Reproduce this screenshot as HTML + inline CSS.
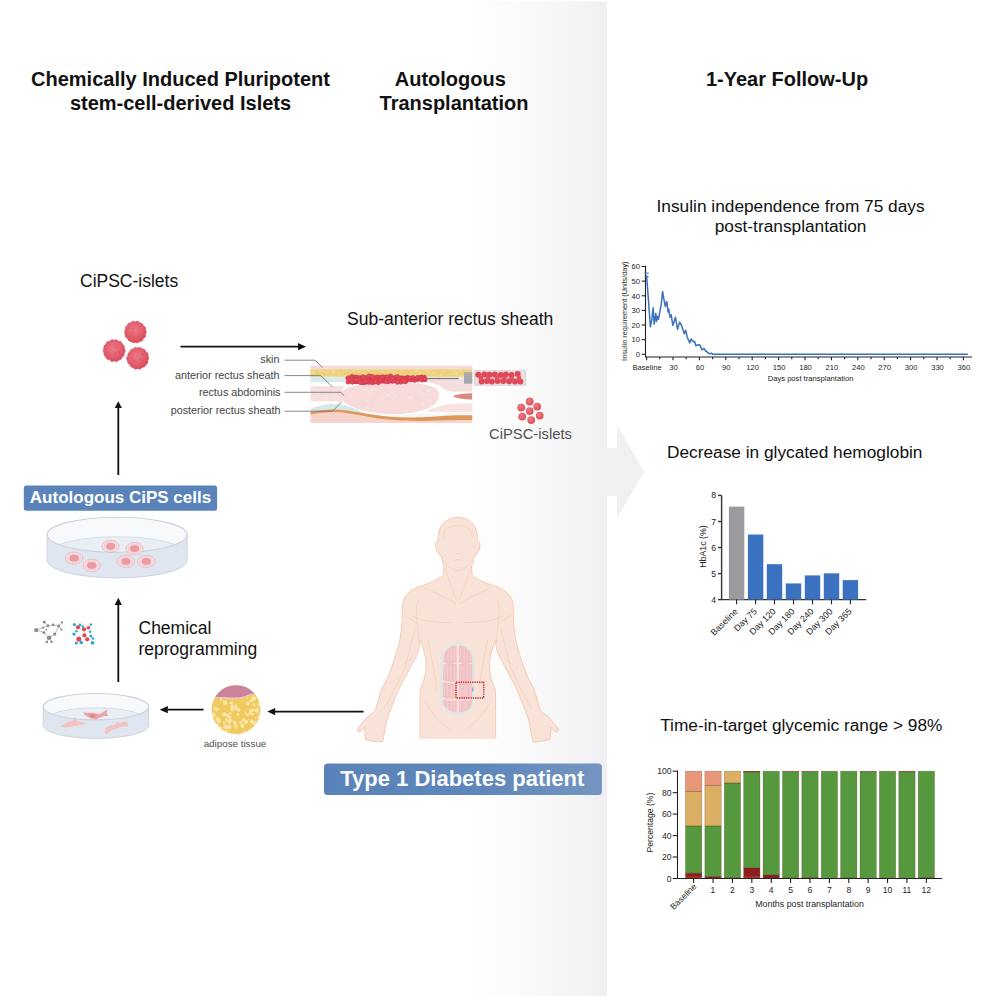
<!DOCTYPE html>
<html><head><meta charset="utf-8">
<style>
html,body{margin:0;padding:0;background:#fff;overflow:hidden;}
svg{display:block;font-family:"Liberation Sans", sans-serif;}
</style></head>
<body>
<svg width="996" height="996" viewBox="0 0 996 996">
<defs>
<linearGradient id="bg" x1="0" x2="1" y1="0" y2="0">
<stop offset="0" stop-color="#ffffff"/>
<stop offset="0.25" stop-color="#fcfcfc"/>
<stop offset="0.55" stop-color="#f8f8f9"/>
<stop offset="1" stop-color="#f0eff1"/>
</linearGradient>
<radialGradient id="islet" cx="0.45" cy="0.4" r="0.6">
<stop offset="0" stop-color="#ec7a86"/>
<stop offset="0.7" stop-color="#e05a6a"/>
<stop offset="1" stop-color="#d84a5c"/>
</radialGradient>
<radialGradient id="ball" cx="0.4" cy="0.35" r="0.65">
<stop offset="0" stop-color="#ee7b83"/>
<stop offset="1" stop-color="#dc5060"/>
</radialGradient>
</defs>
<rect x="0" y="0" width="996" height="996" fill="#fff"/>
<rect x="466" y="1.5" width="141" height="994.5" fill="url(#bg)"/>
<polygon points="607,448 617,448 617,425 644,472 617,518 617,496 607,496" fill="#f0f0f2"/>

<g font-weight="bold" font-size="20" fill="#111" text-anchor="middle">
<text x="180.5" y="86.3">Chemically Induced Pluripotent</text>
<text x="180.5" y="110">stem-cell-derived Islets</text>
<text x="450.3" y="86.4">Autologous</text>
<text x="454" y="110.3">Transplantation</text>
<text x="787" y="86.1">1-Year Follow-Up</text>
</g>
<g font-size="17.5" fill="#111">
<text x="80" y="286.5">CiPSC-islets</text>
<text x="347" y="325.3">Sub-anterior rectus sheath</text>
<text x="138.5" y="633.9">Chemical</text>
<text x="138.5" y="654.7">reprogramming</text>
</g>
<g font-size="17.3" fill="#111" text-anchor="middle">
<text x="790.6" y="211.6">Insulin independence from 75 days</text>
<text x="790.6" y="232">post-transplantation</text>
<text x="794.7" y="458.3">Decrease in glycated hemoglobin</text>
<text x="801.3" y="731.1">Time-in-target glycemic range &gt; 98%</text>
</g>

<rect x="23.8" y="485.6" width="193.3" height="25.2" rx="2.5" fill="#5a84b9"/>
<text x="120.5" y="503.3" font-size="17" font-weight="bold" fill="#fff" text-anchor="middle">Autologous CiPS cells</text>
<linearGradient id="boxg" x1="0" x2="1" y1="0" y2="0"><stop offset="0" stop-color="#5a84b9"/><stop offset="0.55" stop-color="#5d86ba"/><stop offset="1" stop-color="#7595c1"/></linearGradient>
<rect x="324" y="763.4" width="277.9" height="31.6" rx="3.5" fill="url(#boxg)"/>
<text x="462.3" y="786" font-size="22" font-weight="bold" fill="#fbfbfb" text-anchor="middle">Type 1 Diabetes patient</text>

<line x1="118.3" y1="475" x2="118.3" y2="407.6" stroke="#111" stroke-width="1.8"/><polygon points="114.7,408.1 121.89999999999999,408.1 118.3,401.3" fill="#111"/>
<line x1="118.3" y1="682" x2="118.3" y2="604.6" stroke="#111" stroke-width="1.8"/><polygon points="114.7,605.1 121.89999999999999,605.1 118.3,597.8" fill="#111"/>
<line x1="203.6" y1="709.7" x2="167.3" y2="709.7" stroke="#111" stroke-width="1.8"/><polygon points="167.8,706.1 167.8,713.3000000000001 159.7,709.7" fill="#111"/>
<line x1="363.6" y1="711.6" x2="274.7" y2="711.6" stroke="#111" stroke-width="1.8"/><polygon points="275.2,708.0 275.2,715.2 267.3,711.6" fill="#111"/>
<line x1="180.5" y1="346.7" x2="298.5" y2="346.7" stroke="#111" stroke-width="1.8"/><polygon points="298.0,343.09999999999997 298.0,350.3 306,346.7" fill="#111"/>
<polygon points="146.46,332.10 145.40,334.38 145.51,336.97 143.39,338.47 142.36,340.83 139.90,341.44 137.83,342.75 135.40,342.54 132.97,342.74 130.89,341.47 128.58,340.65 127.40,338.48 125.39,336.92 125.07,334.46 124.44,332.10 125.36,329.81 125.30,327.23 127.07,325.45 128.42,323.35 130.89,322.74 132.87,321.00 135.40,321.89 137.92,321.05 139.88,322.79 142.24,323.52 143.41,325.71 145.36,327.30 145.73,329.74" fill="url(#islet)" stroke="#dc5064" stroke-width="0.6" stroke-linejoin="round"/>
<circle cx="137.6" cy="336.8" r="0.6" fill="#c83a4c" opacity="0.5"/>
<circle cx="132.8" cy="329.0" r="0.6" fill="#c83a4c" opacity="0.5"/>
<circle cx="133.2" cy="331.4" r="0.6" fill="#c83a4c" opacity="0.5"/>
<circle cx="138.3" cy="333.2" r="0.6" fill="#c83a4c" opacity="0.5"/>
<circle cx="133.6" cy="328.2" r="0.6" fill="#c83a4c" opacity="0.5"/>
<circle cx="133.4" cy="336.9" r="0.6" fill="#c83a4c" opacity="0.5"/>
<circle cx="131.9" cy="333.2" r="0.6" fill="#c83a4c" opacity="0.5"/>
<polygon points="125.40,350.60 124.37,352.94 124.03,355.38 122.29,357.13 121.06,359.33 118.71,360.17 116.61,361.58 114.10,360.93 111.57,361.70 109.66,359.83 107.17,359.29 105.84,357.19 104.21,355.36 103.93,352.92 103.18,350.60 103.84,348.26 103.94,345.70 105.91,344.07 107.03,341.74 109.61,341.28 111.60,339.63 114.10,340.12 116.59,339.69 118.62,341.22 121.16,341.75 122.43,343.96 124.13,345.77 124.35,348.26" fill="url(#islet)" stroke="#dc5064" stroke-width="0.6" stroke-linejoin="round"/>
<circle cx="119.5" cy="352.8" r="0.6" fill="#c83a4c" opacity="0.5"/>
<circle cx="109.6" cy="344.6" r="0.6" fill="#c83a4c" opacity="0.5"/>
<circle cx="115.7" cy="347.4" r="0.6" fill="#c83a4c" opacity="0.5"/>
<circle cx="109.8" cy="354.3" r="0.6" fill="#c83a4c" opacity="0.5"/>
<circle cx="118.6" cy="351.2" r="0.6" fill="#c83a4c" opacity="0.5"/>
<circle cx="115.4" cy="352.9" r="0.6" fill="#c83a4c" opacity="0.5"/>
<circle cx="119.9" cy="352.9" r="0.6" fill="#c83a4c" opacity="0.5"/>
<polygon points="148.76,358.20 147.85,360.49 147.80,363.01 146.10,364.82 144.62,366.75 142.32,367.58 140.29,369.09 137.80,368.83 135.28,369.23 133.19,367.77 130.92,366.83 129.67,364.68 127.82,363.01 127.44,360.56 126.42,358.20 127.80,355.92 127.90,353.43 129.75,351.78 130.93,349.59 133.28,348.81 135.31,347.29 137.80,347.88 140.23,347.57 142.31,348.83 144.71,349.53 145.98,351.67 148.05,353.26 148.07,355.86" fill="url(#islet)" stroke="#dc5064" stroke-width="0.6" stroke-linejoin="round"/>
<circle cx="132.4" cy="357.7" r="0.6" fill="#c83a4c" opacity="0.5"/>
<circle cx="136.8" cy="356.1" r="0.6" fill="#c83a4c" opacity="0.5"/>
<circle cx="142.9" cy="354.5" r="0.6" fill="#c83a4c" opacity="0.5"/>
<circle cx="142.3" cy="353.7" r="0.6" fill="#c83a4c" opacity="0.5"/>
<circle cx="134.5" cy="360.8" r="0.6" fill="#c83a4c" opacity="0.5"/>
<circle cx="142.2" cy="361.5" r="0.6" fill="#c83a4c" opacity="0.5"/>
<circle cx="140.0" cy="359.1" r="0.6" fill="#c83a4c" opacity="0.5"/>
<g font-size="10.8" fill="#444" text-anchor="end">
<text x="279.5" y="363.4">skin</text>
<text x="279.5" y="378.6">anterior rectus sheath</text>
<text x="280.5" y="395.9">rectus abdominis</text>
<text x="280.5" y="413.8">posterior rectus sheath</text>
</g>

<g id="tissue">
<clipPath id="tclip"><rect x="310.5" y="365.3" width="161.8" height="57.7"/></clipPath>
<g clip-path="url(#tclip)">
<rect x="310" y="365" width="163" height="59" fill="#ffffff"/>
<path d="M310,413 C318,411 326,410 334,410.2 C346,410.5 358,413 372,416 C392,420 418,420.5 445,418.5 C458,417.8 466,418 473,418 L473,424 L310,424 Z" fill="#f6d4cb"/>
<path d="M310,409.5 C318,405 328,403.5 338,404 C348,405 356,409 364,413 C352,411 340,410 330,410.3 C322,410.8 316,411.5 310,412 Z" fill="#d5e9e8"/>
<path d="M364,413.5 C392,418.5 418,419 445,416.8 C458,416 466,416 473,416 L473,412.6 C455,413 435,413.5 410,413.8 C395,414 380,414 364,413.5 Z" fill="#f3f9f9"/>
<path d="M310,412 C318,410.5 326,409.3 334,409.4 C346,409.6 358,412 372,414.5 C392,418 418,418.2 445,415.8 C458,415 466,415.2 473,415.2 L473,420 C466,420 458,420 445,420.3 C418,421.5 392,421 372,417.5 C358,414.8 346,412.3 334,412 C326,412 318,413.2 310,414.5 Z" fill="#e0975a"/>
<path d="M310,386.3 L344,386.3 C341.5,391 340.5,396 342.5,401.2 L310,401.2 Z" fill="#f7dddc"/>
<ellipse cx="317.4" cy="389.8" rx="2.7" ry="0.8" fill="#fae8e8" opacity="0.7"/>
<ellipse cx="312.0" cy="389.7" rx="2.2" ry="1.0" fill="#fae8e8" opacity="0.7"/>
<ellipse cx="312.7" cy="397.6" rx="3.2" ry="0.9" fill="#fae8e8" opacity="0.7"/>
<ellipse cx="318.6" cy="391.8" rx="2.7" ry="0.9" fill="#fae8e8" opacity="0.7"/>
<ellipse cx="334.1" cy="398.9" rx="2.9" ry="1.1" fill="#fae8e8" opacity="0.7"/>
<ellipse cx="314.2" cy="389.1" rx="2.7" ry="1.0" fill="#fae8e8" opacity="0.7"/>
<ellipse cx="333.6" cy="389.8" rx="2.0" ry="1.4" fill="#fae8e8" opacity="0.7"/>
<ellipse cx="325.7" cy="389.6" rx="3.1" ry="0.8" fill="#fae8e8" opacity="0.7"/>
<ellipse cx="325.7" cy="398.8" rx="3.7" ry="1.2" fill="#fae8e8" opacity="0.7"/>
<ellipse cx="318.8" cy="392.0" rx="2.3" ry="1.3" fill="#fae8e8" opacity="0.7"/>
<rect x="310" y="365.5" width="163" height="4" fill="#f4dbda"/>
<rect x="310" y="369.3" width="163" height="7.5" fill="#eed079"/>
<ellipse cx="396.2" cy="374.7" rx="1.6" ry="0.7" fill="#f4dc98" opacity="0.7"/>
<ellipse cx="440.8" cy="375.9" rx="2.2" ry="1.0" fill="#f4dc98" opacity="0.7"/>
<ellipse cx="441.9" cy="374.4" rx="1.5" ry="0.9" fill="#f4dc98" opacity="0.7"/>
<ellipse cx="367.9" cy="370.2" rx="1.2" ry="0.7" fill="#f4dc98" opacity="0.7"/>
<ellipse cx="352.5" cy="374.2" rx="2.3" ry="0.8" fill="#f4dc98" opacity="0.7"/>
<ellipse cx="460.9" cy="375.9" rx="2.3" ry="0.8" fill="#f4dc98" opacity="0.7"/>
<ellipse cx="346.3" cy="371.4" rx="1.4" ry="0.7" fill="#f4dc98" opacity="0.7"/>
<ellipse cx="410.9" cy="375.4" rx="2.2" ry="0.8" fill="#f4dc98" opacity="0.7"/>
<ellipse cx="415.5" cy="374.8" rx="1.3" ry="0.9" fill="#f4dc98" opacity="0.7"/>
<ellipse cx="456.6" cy="374.7" rx="2.1" ry="0.8" fill="#f4dc98" opacity="0.7"/>
<ellipse cx="339.6" cy="374.7" rx="1.6" ry="1.0" fill="#f4dc98" opacity="0.7"/>
<ellipse cx="466.5" cy="372.4" rx="1.7" ry="1.1" fill="#f4dc98" opacity="0.7"/>
<ellipse cx="427.0" cy="371.0" rx="1.4" ry="0.7" fill="#f4dc98" opacity="0.7"/>
<ellipse cx="455.8" cy="374.8" rx="1.4" ry="1.0" fill="#f4dc98" opacity="0.7"/>
<ellipse cx="467.8" cy="373.9" rx="1.6" ry="0.9" fill="#f4dc98" opacity="0.7"/>
<ellipse cx="332.0" cy="370.1" rx="2.4" ry="0.9" fill="#f4dc98" opacity="0.7"/>
<ellipse cx="395.3" cy="375.6" rx="1.7" ry="1.0" fill="#f4dc98" opacity="0.7"/>
<ellipse cx="443.2" cy="371.3" rx="1.5" ry="0.7" fill="#f4dc98" opacity="0.7"/>
<ellipse cx="349.5" cy="373.5" rx="1.5" ry="0.8" fill="#f4dc98" opacity="0.7"/>
<ellipse cx="332.0" cy="375.5" rx="1.6" ry="0.8" fill="#f4dc98" opacity="0.7"/>
<ellipse cx="404.3" cy="375.4" rx="1.7" ry="1.1" fill="#f4dc98" opacity="0.7"/>
<ellipse cx="391.3" cy="373.2" rx="1.8" ry="0.6" fill="#f4dc98" opacity="0.7"/>
<ellipse cx="381.4" cy="371.1" rx="1.2" ry="1.0" fill="#f4dc98" opacity="0.7"/>
<ellipse cx="338.6" cy="372.8" rx="2.1" ry="0.9" fill="#f4dc98" opacity="0.7"/>
<ellipse cx="363.2" cy="373.1" rx="1.9" ry="1.0" fill="#f4dc98" opacity="0.7"/>
<ellipse cx="328.0" cy="373.4" rx="1.5" ry="0.7" fill="#f4dc98" opacity="0.7"/>
<ellipse cx="434.6" cy="373.0" rx="1.9" ry="1.0" fill="#f4dc98" opacity="0.7"/>
<ellipse cx="457.0" cy="372.7" rx="1.9" ry="0.9" fill="#f4dc98" opacity="0.7"/>
<ellipse cx="392.9" cy="374.2" rx="1.7" ry="0.9" fill="#f4dc98" opacity="0.7"/>
<ellipse cx="387.5" cy="375.6" rx="2.0" ry="1.0" fill="#f4dc98" opacity="0.7"/>
<ellipse cx="461.7" cy="371.6" rx="1.9" ry="1.1" fill="#f4dc98" opacity="0.7"/>
<ellipse cx="445.4" cy="370.8" rx="1.3" ry="0.8" fill="#f4dc98" opacity="0.7"/>
<ellipse cx="322.6" cy="371.4" rx="1.3" ry="0.9" fill="#f4dc98" opacity="0.7"/>
<ellipse cx="436.4" cy="375.4" rx="1.4" ry="1.0" fill="#f4dc98" opacity="0.7"/>
<ellipse cx="416.6" cy="370.9" rx="2.3" ry="1.1" fill="#f4dc98" opacity="0.7"/>
<ellipse cx="346.1" cy="375.7" rx="1.7" ry="0.8" fill="#f4dc98" opacity="0.7"/>
<ellipse cx="469.4" cy="375.0" rx="1.4" ry="0.8" fill="#f4dc98" opacity="0.7"/>
<ellipse cx="393.5" cy="372.0" rx="1.4" ry="0.8" fill="#f4dc98" opacity="0.7"/>
<ellipse cx="426.5" cy="370.1" rx="1.9" ry="0.8" fill="#f4dc98" opacity="0.7"/>
<ellipse cx="313.9" cy="372.0" rx="1.9" ry="0.9" fill="#f4dc98" opacity="0.7"/>
<ellipse cx="321.3" cy="375.9" rx="2.1" ry="1.1" fill="#f4dc98" opacity="0.7"/>
<ellipse cx="327.8" cy="371.6" rx="1.2" ry="1.0" fill="#f4dc98" opacity="0.7"/>
<ellipse cx="354.3" cy="370.8" rx="1.7" ry="1.1" fill="#f4dc98" opacity="0.7"/>
<ellipse cx="442.0" cy="371.6" rx="1.4" ry="1.1" fill="#f4dc98" opacity="0.7"/>
<ellipse cx="402.3" cy="374.2" rx="1.3" ry="0.6" fill="#f4dc98" opacity="0.7"/>
<ellipse cx="421.1" cy="372.6" rx="1.3" ry="1.1" fill="#f4dc98" opacity="0.7"/>
<ellipse cx="412.5" cy="374.8" rx="1.3" ry="1.0" fill="#f4dc98" opacity="0.7"/>
<ellipse cx="321.7" cy="375.2" rx="1.7" ry="0.8" fill="#f4dc98" opacity="0.7"/>
<ellipse cx="399.5" cy="375.6" rx="1.5" ry="0.7" fill="#f4dc98" opacity="0.7"/>
<ellipse cx="395.3" cy="371.4" rx="1.3" ry="0.7" fill="#f4dc98" opacity="0.7"/>
<ellipse cx="319.1" cy="371.2" rx="1.6" ry="0.8" fill="#f4dc98" opacity="0.7"/>
<ellipse cx="432.5" cy="371.7" rx="1.8" ry="0.7" fill="#f4dc98" opacity="0.7"/>
<ellipse cx="366.5" cy="370.1" rx="1.5" ry="0.6" fill="#f4dc98" opacity="0.7"/>
<ellipse cx="428.3" cy="373.3" rx="1.4" ry="0.8" fill="#f4dc98" opacity="0.7"/>
<ellipse cx="460.5" cy="370.6" rx="2.2" ry="0.8" fill="#f4dc98" opacity="0.7"/>
<ellipse cx="390.2" cy="375.0" rx="1.7" ry="0.9" fill="#f4dc98" opacity="0.7"/>
<ellipse cx="421.0" cy="375.9" rx="1.6" ry="1.0" fill="#f4dc98" opacity="0.7"/>
<ellipse cx="424.1" cy="373.8" rx="1.7" ry="0.8" fill="#f4dc98" opacity="0.7"/>
<ellipse cx="319.7" cy="370.8" rx="1.3" ry="1.0" fill="#f4dc98" opacity="0.7"/>
<ellipse cx="351.9" cy="371.0" rx="1.3" ry="1.0" fill="#f4dc98" opacity="0.7"/>
<ellipse cx="450.3" cy="374.0" rx="1.5" ry="0.7" fill="#f4dc98" opacity="0.7"/>
<ellipse cx="357.9" cy="372.8" rx="1.4" ry="0.8" fill="#f4dc98" opacity="0.7"/>
<ellipse cx="353.1" cy="375.8" rx="2.4" ry="0.9" fill="#f4dc98" opacity="0.7"/>
<ellipse cx="350.1" cy="375.8" rx="1.6" ry="0.8" fill="#f4dc98" opacity="0.7"/>
<ellipse cx="311.2" cy="372.3" rx="1.8" ry="0.9" fill="#f4dc98" opacity="0.7"/>
<ellipse cx="343.2" cy="373.0" rx="1.2" ry="0.7" fill="#f4dc98" opacity="0.7"/>
<ellipse cx="325.4" cy="372.4" rx="1.3" ry="0.6" fill="#f4dc98" opacity="0.7"/>
<ellipse cx="359.7" cy="371.4" rx="1.9" ry="0.9" fill="#f4dc98" opacity="0.7"/>
<ellipse cx="431.1" cy="373.9" rx="2.1" ry="1.0" fill="#f4dc98" opacity="0.7"/>
<ellipse cx="373.3" cy="372.0" rx="2.4" ry="0.7" fill="#f4dc98" opacity="0.7"/>
<ellipse cx="426.9" cy="373.9" rx="1.3" ry="1.0" fill="#f4dc98" opacity="0.7"/>
<ellipse cx="453.7" cy="373.8" rx="2.1" ry="1.0" fill="#f4dc98" opacity="0.7"/>
<ellipse cx="333.3" cy="373.1" rx="1.8" ry="1.0" fill="#f4dc98" opacity="0.7"/>
<ellipse cx="439.7" cy="375.0" rx="1.9" ry="1.0" fill="#f4dc98" opacity="0.7"/>
<ellipse cx="420.3" cy="374.2" rx="1.5" ry="0.6" fill="#f4dc98" opacity="0.7"/>
<ellipse cx="332.3" cy="372.2" rx="1.3" ry="1.0" fill="#f4dc98" opacity="0.7"/>
<ellipse cx="400.4" cy="373.8" rx="2.0" ry="0.9" fill="#f4dc98" opacity="0.7"/>
<ellipse cx="389.3" cy="370.0" rx="2.2" ry="1.0" fill="#f4dc98" opacity="0.7"/>
<ellipse cx="391.5" cy="373.2" rx="2.0" ry="0.6" fill="#f4dc98" opacity="0.7"/>
<ellipse cx="428.9" cy="371.5" rx="1.3" ry="0.7" fill="#f4dc98" opacity="0.7"/>
<ellipse cx="427.7" cy="371.2" rx="2.1" ry="1.1" fill="#f4dc98" opacity="0.7"/>
<ellipse cx="390.0" cy="372.3" rx="1.8" ry="0.9" fill="#f4dc98" opacity="0.7"/>
<ellipse cx="433.7" cy="373.7" rx="2.0" ry="0.6" fill="#f4dc98" opacity="0.7"/>
<ellipse cx="334.6" cy="371.5" rx="2.1" ry="0.8" fill="#f4dc98" opacity="0.7"/>
<ellipse cx="401.8" cy="370.1" rx="1.3" ry="0.7" fill="#f4dc98" opacity="0.7"/>
<ellipse cx="418.5" cy="374.2" rx="2.0" ry="0.7" fill="#f4dc98" opacity="0.7"/>
<ellipse cx="393.6" cy="372.8" rx="1.8" ry="0.7" fill="#f4dc98" opacity="0.7"/>
<ellipse cx="454.0" cy="371.2" rx="2.4" ry="1.1" fill="#f4dc98" opacity="0.7"/>
<ellipse cx="313.8" cy="372.8" rx="2.2" ry="1.1" fill="#f4dc98" opacity="0.7"/>
<ellipse cx="382.9" cy="371.6" rx="1.5" ry="1.1" fill="#f4dc98" opacity="0.7"/>
<path d="M310,376.8 L360,376.8 L360,382.2 L310,382.2 Z" fill="#d9ebea"/>
<path d="M473,379.5 L420,379.5 C428,381 434,383.5 440,386 C444,389 448,391.5 453,391.8 L473,391.8 Z" fill="#f7dede"/>
<path d="M473,403.5 L455,403.5 C445,404 435,407 425,411.8 C440,412.5 460,412.5 473,412.3 Z" fill="#f8e3e3"/>
<path d="M472.5,393.3 C465,393.3 456,394.3 453,396.3 C456,398.5 465,399.5 472.5,399.5 Z" fill="#da8a80"/>
<path d="M340.7,395 C341,386 365,382.5 398,382.5 C424,382.5 439.3,386 439.3,394.5 C439.3,405 424,414 395,414 C365,414 340.5,406 340.7,395 Z" fill="#f7dada"/>
<ellipse cx="367.3" cy="400.8" rx="1.7" ry="1.2" fill="#fae6e6" opacity="0.6"/>
<ellipse cx="428.1" cy="390.9" rx="2.7" ry="1.2" fill="#fae6e6" opacity="0.6"/>
<ellipse cx="422.7" cy="403.5" rx="1.8" ry="1.4" fill="#fae6e6" opacity="0.6"/>
<ellipse cx="389.9" cy="388.5" rx="1.5" ry="1.1" fill="#fae6e6" opacity="0.6"/>
<ellipse cx="387.0" cy="394.6" rx="1.7" ry="1.0" fill="#fae6e6" opacity="0.6"/>
<ellipse cx="375.9" cy="406.5" rx="1.5" ry="1.3" fill="#fae6e6" opacity="0.6"/>
<ellipse cx="418.8" cy="390.6" rx="2.9" ry="1.3" fill="#fae6e6" opacity="0.6"/>
<ellipse cx="423.9" cy="394.4" rx="2.1" ry="1.1" fill="#fae6e6" opacity="0.6"/>
<ellipse cx="431.9" cy="401.0" rx="2.0" ry="1.1" fill="#fae6e6" opacity="0.6"/>
<ellipse cx="372.6" cy="389.1" rx="1.7" ry="1.4" fill="#fae6e6" opacity="0.6"/>
<ellipse cx="373.4" cy="408.6" rx="1.9" ry="1.0" fill="#fae6e6" opacity="0.6"/>
<ellipse cx="391.9" cy="392.2" rx="2.1" ry="1.5" fill="#fae6e6" opacity="0.6"/>
<ellipse cx="422.5" cy="405.9" rx="2.4" ry="1.4" fill="#fae6e6" opacity="0.6"/>
<ellipse cx="427.1" cy="400.1" rx="2.6" ry="0.8" fill="#fae6e6" opacity="0.6"/>
<ellipse cx="410.1" cy="397.9" rx="2.6" ry="1.3" fill="#fae6e6" opacity="0.6"/>
<ellipse cx="373.5" cy="389.1" rx="2.9" ry="0.9" fill="#fae6e6" opacity="0.6"/>
<ellipse cx="388.7" cy="395.6" rx="1.9" ry="1.3" fill="#fae6e6" opacity="0.6"/>
<ellipse cx="430.1" cy="393.7" rx="2.5" ry="1.0" fill="#fae6e6" opacity="0.6"/>
<ellipse cx="395.7" cy="396.7" rx="1.8" ry="0.9" fill="#fae6e6" opacity="0.6"/>
<ellipse cx="367.0" cy="407.9" rx="2.2" ry="1.0" fill="#fae6e6" opacity="0.6"/>
<ellipse cx="424.3" cy="409.9" rx="2.2" ry="0.9" fill="#fae6e6" opacity="0.6"/>
<ellipse cx="365.8" cy="390.0" rx="2.0" ry="0.9" fill="#fae6e6" opacity="0.6"/>
<ellipse cx="369.6" cy="393.7" rx="2.4" ry="1.4" fill="#fae6e6" opacity="0.6"/>
<ellipse cx="411.5" cy="397.1" rx="2.1" ry="1.2" fill="#fae6e6" opacity="0.6"/>
<ellipse cx="380.9" cy="395.4" rx="1.6" ry="1.0" fill="#fae6e6" opacity="0.6"/>
<ellipse cx="429.4" cy="390.8" rx="2.3" ry="1.2" fill="#fae6e6" opacity="0.6"/>
<ellipse cx="420.8" cy="392.8" rx="1.9" ry="1.0" fill="#fae6e6" opacity="0.6"/>
<ellipse cx="382.8" cy="397.8" rx="2.9" ry="1.4" fill="#fae6e6" opacity="0.6"/>
<ellipse cx="421.6" cy="388.5" rx="1.5" ry="1.3" fill="#fae6e6" opacity="0.6"/>
<ellipse cx="423.4" cy="398.4" rx="2.4" ry="0.8" fill="#fae6e6" opacity="0.6"/>
<line x1="420" y1="378.5" x2="459" y2="378.5" stroke="#7c7c80" stroke-width="1.3"/>
<rect x="458.6" y="376.7" width="5.6" height="3.2" fill="#e8e8ec"/>
<rect x="464" y="372.2" width="10.8" height="11.5" fill="#a9a9ad"/>
<path d="M348,379.8 C348,376.5 352,375.5 358,375.5 C370,375 390,375 405,375.8 C415,376.5 422,377 426,378.2 C422,380.5 412,382 400,382.8 C385,383.8 365,384 355,384 C350,383.5 348,382.5 348,379.8 Z" fill="#d8404f"/>
<circle cx="378.0" cy="382.2" r="2.26" fill="#e04a5b" stroke="#cc3448" stroke-width="0.4"/>
<circle cx="414.2" cy="380.7" r="1.57" fill="#e04a5b" stroke="#cc3448" stroke-width="0.4"/>
<circle cx="356.0" cy="377.2" r="2.11" fill="#e04a5b" stroke="#cc3448" stroke-width="0.4"/>
<circle cx="400.7" cy="382.1" r="2.21" fill="#e04a5b" stroke="#cc3448" stroke-width="0.4"/>
<circle cx="398.0" cy="380.9" r="2.08" fill="#e04a5b" stroke="#cc3448" stroke-width="0.4"/>
<circle cx="390.5" cy="376.0" r="2.24" fill="#e04a5b" stroke="#cc3448" stroke-width="0.4"/>
<circle cx="365.6" cy="382.3" r="2.17" fill="#e04a5b" stroke="#cc3448" stroke-width="0.4"/>
<circle cx="371.2" cy="376.8" r="1.98" fill="#e04a5b" stroke="#cc3448" stroke-width="0.4"/>
<circle cx="397.1" cy="380.4" r="1.91" fill="#e04a5b" stroke="#cc3448" stroke-width="0.4"/>
<circle cx="353.0" cy="379.7" r="2.14" fill="#e04a5b" stroke="#cc3448" stroke-width="0.4"/>
<circle cx="377.8" cy="377.4" r="2.15" fill="#e04a5b" stroke="#cc3448" stroke-width="0.4"/>
<circle cx="348.3" cy="378.2" r="2.08" fill="#e04a5b" stroke="#cc3448" stroke-width="0.4"/>
<circle cx="422.3" cy="379.2" r="1.89" fill="#e04a5b" stroke="#cc3448" stroke-width="0.4"/>
<circle cx="384.6" cy="377.4" r="1.97" fill="#e04a5b" stroke="#cc3448" stroke-width="0.4"/>
<circle cx="422.4" cy="379.5" r="1.60" fill="#e04a5b" stroke="#cc3448" stroke-width="0.4"/>
<circle cx="349.2" cy="379.6" r="2.19" fill="#e04a5b" stroke="#cc3448" stroke-width="0.4"/>
<circle cx="380.3" cy="377.6" r="2.18" fill="#e04a5b" stroke="#cc3448" stroke-width="0.4"/>
<circle cx="419.7" cy="377.4" r="1.47" fill="#e04a5b" stroke="#cc3448" stroke-width="0.4"/>
<circle cx="373.9" cy="378.8" r="2.19" fill="#e04a5b" stroke="#cc3448" stroke-width="0.4"/>
<circle cx="363.0" cy="381.5" r="2.22" fill="#e04a5b" stroke="#cc3448" stroke-width="0.4"/>
<circle cx="386.9" cy="377.2" r="2.33" fill="#e04a5b" stroke="#cc3448" stroke-width="0.4"/>
<circle cx="371.8" cy="381.5" r="1.97" fill="#e04a5b" stroke="#cc3448" stroke-width="0.4"/>
<circle cx="364.8" cy="381.2" r="2.00" fill="#e04a5b" stroke="#cc3448" stroke-width="0.4"/>
<circle cx="421.8" cy="378.6" r="1.54" fill="#e04a5b" stroke="#cc3448" stroke-width="0.4"/>
<circle cx="364.9" cy="378.9" r="2.18" fill="#e04a5b" stroke="#cc3448" stroke-width="0.4"/>
<circle cx="421.5" cy="377.0" r="1.65" fill="#e04a5b" stroke="#cc3448" stroke-width="0.4"/>
<circle cx="364.1" cy="382.7" r="1.92" fill="#e04a5b" stroke="#cc3448" stroke-width="0.4"/>
<circle cx="351.5" cy="376.6" r="2.05" fill="#e04a5b" stroke="#cc3448" stroke-width="0.4"/>
<circle cx="417.6" cy="380.3" r="1.82" fill="#e04a5b" stroke="#cc3448" stroke-width="0.4"/>
<circle cx="425.3" cy="380.5" r="1.61" fill="#e04a5b" stroke="#cc3448" stroke-width="0.4"/>
<circle cx="362.0" cy="382.4" r="2.22" fill="#e04a5b" stroke="#cc3448" stroke-width="0.4"/>
<circle cx="350.0" cy="380.7" r="2.04" fill="#e04a5b" stroke="#cc3448" stroke-width="0.4"/>
<circle cx="376.7" cy="378.2" r="1.93" fill="#e04a5b" stroke="#cc3448" stroke-width="0.4"/>
<circle cx="347.7" cy="378.1" r="2.03" fill="#e04a5b" stroke="#cc3448" stroke-width="0.4"/>
<circle cx="422.0" cy="376.9" r="1.93" fill="#e04a5b" stroke="#cc3448" stroke-width="0.4"/>
<circle cx="363.7" cy="378.5" r="2.26" fill="#e04a5b" stroke="#cc3448" stroke-width="0.4"/>
<circle cx="411.6" cy="378.3" r="1.47" fill="#e04a5b" stroke="#cc3448" stroke-width="0.4"/>
<circle cx="384.4" cy="378.4" r="2.31" fill="#e04a5b" stroke="#cc3448" stroke-width="0.4"/>
<circle cx="362.6" cy="378.5" r="2.30" fill="#e04a5b" stroke="#cc3448" stroke-width="0.4"/>
<circle cx="349.9" cy="379.0" r="2.26" fill="#e04a5b" stroke="#cc3448" stroke-width="0.4"/>
<circle cx="407.3" cy="376.6" r="1.47" fill="#e04a5b" stroke="#cc3448" stroke-width="0.4"/>
<circle cx="352.4" cy="382.4" r="1.98" fill="#e04a5b" stroke="#cc3448" stroke-width="0.4"/>
<circle cx="405.8" cy="381.7" r="2.02" fill="#e04a5b" stroke="#cc3448" stroke-width="0.4"/>
<circle cx="368.7" cy="382.5" r="2.16" fill="#e04a5b" stroke="#cc3448" stroke-width="0.4"/>
<circle cx="367.9" cy="380.9" r="2.01" fill="#e04a5b" stroke="#cc3448" stroke-width="0.4"/>
<circle cx="369.0" cy="376.0" r="2.23" fill="#e04a5b" stroke="#cc3448" stroke-width="0.4"/>
<circle cx="419.0" cy="379.2" r="1.92" fill="#e04a5b" stroke="#cc3448" stroke-width="0.4"/>
<circle cx="349.4" cy="377.8" r="2.09" fill="#e04a5b" stroke="#cc3448" stroke-width="0.4"/>
<circle cx="422.1" cy="380.6" r="1.64" fill="#e04a5b" stroke="#cc3448" stroke-width="0.4"/>
<circle cx="367.1" cy="378.9" r="2.10" fill="#e04a5b" stroke="#cc3448" stroke-width="0.4"/>
<circle cx="419.9" cy="377.2" r="1.85" fill="#e04a5b" stroke="#cc3448" stroke-width="0.4"/>
<circle cx="405.1" cy="381.2" r="2.24" fill="#e04a5b" stroke="#cc3448" stroke-width="0.4"/>
<circle cx="394.9" cy="377.9" r="2.01" fill="#e04a5b" stroke="#cc3448" stroke-width="0.4"/>
<circle cx="375.7" cy="381.2" r="1.89" fill="#e04a5b" stroke="#cc3448" stroke-width="0.4"/>
<circle cx="362.9" cy="381.2" r="1.97" fill="#e04a5b" stroke="#cc3448" stroke-width="0.4"/>
<circle cx="352.5" cy="376.4" r="2.13" fill="#e04a5b" stroke="#cc3448" stroke-width="0.4"/>
<circle cx="372.9" cy="382.6" r="2.29" fill="#e04a5b" stroke="#cc3448" stroke-width="0.4"/>
<circle cx="424.6" cy="377.6" r="1.49" fill="#e04a5b" stroke="#cc3448" stroke-width="0.4"/>
<circle cx="355.0" cy="379.5" r="2.20" fill="#e04a5b" stroke="#cc3448" stroke-width="0.4"/>
<circle cx="382.4" cy="377.4" r="2.06" fill="#e04a5b" stroke="#cc3448" stroke-width="0.4"/>
<circle cx="395.9" cy="380.3" r="2.22" fill="#e04a5b" stroke="#cc3448" stroke-width="0.4"/>
<circle cx="413.6" cy="379.3" r="1.51" fill="#e04a5b" stroke="#cc3448" stroke-width="0.4"/>
<circle cx="413.1" cy="377.7" r="1.73" fill="#e04a5b" stroke="#cc3448" stroke-width="0.4"/>
<circle cx="376.6" cy="380.9" r="1.95" fill="#e04a5b" stroke="#cc3448" stroke-width="0.4"/>
<circle cx="366.8" cy="377.7" r="1.93" fill="#e04a5b" stroke="#cc3448" stroke-width="0.4"/>
<circle cx="416.5" cy="378.9" r="1.61" fill="#e04a5b" stroke="#cc3448" stroke-width="0.4"/>
<circle cx="378.4" cy="382.6" r="2.10" fill="#e04a5b" stroke="#cc3448" stroke-width="0.4"/>
<circle cx="365.5" cy="381.5" r="2.18" fill="#e04a5b" stroke="#cc3448" stroke-width="0.4"/>
<circle cx="424.8" cy="376.8" r="1.69" fill="#e04a5b" stroke="#cc3448" stroke-width="0.4"/>
<circle cx="411.4" cy="380.1" r="1.91" fill="#e04a5b" stroke="#cc3448" stroke-width="0.4"/>
<circle cx="350.6" cy="378.2" r="1.91" fill="#e04a5b" stroke="#cc3448" stroke-width="0.4"/>
<circle cx="362.3" cy="382.7" r="2.14" fill="#e04a5b" stroke="#cc3448" stroke-width="0.4"/>
<circle cx="420.1" cy="378.0" r="1.88" fill="#e04a5b" stroke="#cc3448" stroke-width="0.4"/>
<circle cx="382.5" cy="377.6" r="2.24" fill="#e04a5b" stroke="#cc3448" stroke-width="0.4"/>
<circle cx="421.3" cy="376.9" r="1.75" fill="#e04a5b" stroke="#cc3448" stroke-width="0.4"/>
<circle cx="395.9" cy="377.2" r="2.03" fill="#e04a5b" stroke="#cc3448" stroke-width="0.4"/>
<circle cx="358.5" cy="377.5" r="1.98" fill="#e04a5b" stroke="#cc3448" stroke-width="0.4"/>
<circle cx="394.3" cy="380.2" r="1.95" fill="#e04a5b" stroke="#cc3448" stroke-width="0.4"/>
<circle cx="348.4" cy="378.4" r="2.19" fill="#e04a5b" stroke="#cc3448" stroke-width="0.4"/>
<circle cx="361.9" cy="378.2" r="1.95" fill="#e04a5b" stroke="#cc3448" stroke-width="0.4"/>
<circle cx="409.5" cy="378.8" r="1.48" fill="#e04a5b" stroke="#cc3448" stroke-width="0.4"/>
<circle cx="355.4" cy="378.8" r="2.13" fill="#e04a5b" stroke="#cc3448" stroke-width="0.4"/>
<circle cx="397.4" cy="376.3" r="1.93" fill="#e04a5b" stroke="#cc3448" stroke-width="0.4"/>
<circle cx="401.7" cy="378.4" r="1.99" fill="#e04a5b" stroke="#cc3448" stroke-width="0.4"/>
<circle cx="371.5" cy="382.4" r="2.01" fill="#e04a5b" stroke="#cc3448" stroke-width="0.4"/>
<circle cx="391.7" cy="378.2" r="2.06" fill="#e04a5b" stroke="#cc3448" stroke-width="0.4"/>
<circle cx="414.9" cy="380.8" r="1.63" fill="#e04a5b" stroke="#cc3448" stroke-width="0.4"/>
<circle cx="362.9" cy="381.0" r="1.95" fill="#e04a5b" stroke="#cc3448" stroke-width="0.4"/>
<circle cx="348.0" cy="382.3" r="2.06" fill="#e04a5b" stroke="#cc3448" stroke-width="0.4"/>
<circle cx="411.5" cy="378.2" r="1.89" fill="#e04a5b" stroke="#cc3448" stroke-width="0.4"/>
<circle cx="383.5" cy="376.9" r="1.86" fill="#e04a5b" stroke="#cc3448" stroke-width="0.4"/>
<circle cx="390.5" cy="380.1" r="2.30" fill="#e04a5b" stroke="#cc3448" stroke-width="0.4"/>
<circle cx="354.4" cy="380.4" r="2.04" fill="#e04a5b" stroke="#cc3448" stroke-width="0.4"/>
<circle cx="386.8" cy="376.8" r="1.99" fill="#e04a5b" stroke="#cc3448" stroke-width="0.4"/>
<circle cx="388.2" cy="382.1" r="1.90" fill="#e04a5b" stroke="#cc3448" stroke-width="0.4"/>
<circle cx="385.8" cy="381.3" r="2.33" fill="#e04a5b" stroke="#cc3448" stroke-width="0.4"/>
<circle cx="362.9" cy="376.9" r="2.32" fill="#e04a5b" stroke="#cc3448" stroke-width="0.4"/>
<circle cx="423.6" cy="378.5" r="1.48" fill="#e04a5b" stroke="#cc3448" stroke-width="0.4"/>
<circle cx="419.7" cy="378.1" r="1.90" fill="#e04a5b" stroke="#cc3448" stroke-width="0.4"/>
<circle cx="395.9" cy="381.3" r="1.93" fill="#e04a5b" stroke="#cc3448" stroke-width="0.4"/>
<circle cx="408.8" cy="377.4" r="1.65" fill="#e04a5b" stroke="#cc3448" stroke-width="0.4"/>
<circle cx="413.5" cy="380.1" r="1.54" fill="#e04a5b" stroke="#cc3448" stroke-width="0.4"/>
<circle cx="364.5" cy="378.7" r="2.11" fill="#e04a5b" stroke="#cc3448" stroke-width="0.4"/>
<circle cx="377.4" cy="376.7" r="1.97" fill="#e04a5b" stroke="#cc3448" stroke-width="0.4"/>
<circle cx="404.0" cy="381.7" r="1.87" fill="#e04a5b" stroke="#cc3448" stroke-width="0.4"/>
<circle cx="391.4" cy="380.9" r="1.87" fill="#e04a5b" stroke="#cc3448" stroke-width="0.4"/>
<circle cx="412.9" cy="376.9" r="1.75" fill="#e04a5b" stroke="#cc3448" stroke-width="0.4"/>
<circle cx="390.4" cy="380.0" r="2.00" fill="#e04a5b" stroke="#cc3448" stroke-width="0.4"/>
<circle cx="380.3" cy="379.8" r="2.06" fill="#e04a5b" stroke="#cc3448" stroke-width="0.4"/>
<circle cx="398.9" cy="378.7" r="2.07" fill="#e04a5b" stroke="#cc3448" stroke-width="0.4"/>
<circle cx="349.3" cy="380.4" r="2.09" fill="#e04a5b" stroke="#cc3448" stroke-width="0.4"/>
<circle cx="365.8" cy="381.2" r="2.24" fill="#e04a5b" stroke="#cc3448" stroke-width="0.4"/>
<circle cx="383.2" cy="377.1" r="2.09" fill="#e04a5b" stroke="#cc3448" stroke-width="0.4"/>
<circle cx="355.9" cy="377.0" r="2.07" fill="#e04a5b" stroke="#cc3448" stroke-width="0.4"/>
<circle cx="354.7" cy="379.1" r="2.11" fill="#e04a5b" stroke="#cc3448" stroke-width="0.4"/>
<circle cx="350.7" cy="380.5" r="1.89" fill="#e04a5b" stroke="#cc3448" stroke-width="0.4"/>
<circle cx="404.7" cy="380.9" r="2.11" fill="#e04a5b" stroke="#cc3448" stroke-width="0.4"/>
<circle cx="351.7" cy="379.6" r="2.04" fill="#e04a5b" stroke="#cc3448" stroke-width="0.4"/>
<circle cx="421.7" cy="377.0" r="1.88" fill="#e04a5b" stroke="#cc3448" stroke-width="0.4"/>
<circle cx="425.2" cy="379.6" r="1.86" fill="#e04a5b" stroke="#cc3448" stroke-width="0.4"/>
<circle cx="362.6" cy="382.7" r="2.10" fill="#e04a5b" stroke="#cc3448" stroke-width="0.4"/>
<circle cx="422.1" cy="380.4" r="1.53" fill="#e04a5b" stroke="#cc3448" stroke-width="0.4"/>
<circle cx="409.0" cy="380.5" r="1.48" fill="#e04a5b" stroke="#cc3448" stroke-width="0.4"/>
<circle cx="374.9" cy="381.1" r="1.93" fill="#e04a5b" stroke="#cc3448" stroke-width="0.4"/>
<circle cx="417.4" cy="377.6" r="1.86" fill="#e04a5b" stroke="#cc3448" stroke-width="0.4"/>
<circle cx="358.7" cy="379.5" r="2.31" fill="#e04a5b" stroke="#cc3448" stroke-width="0.4"/>
<circle cx="363.7" cy="377.8" r="2.10" fill="#e04a5b" stroke="#cc3448" stroke-width="0.4"/>
<circle cx="372.4" cy="376.2" r="1.94" fill="#e04a5b" stroke="#cc3448" stroke-width="0.4"/>
<circle cx="360.1" cy="382.4" r="2.19" fill="#e04a5b" stroke="#cc3448" stroke-width="0.4"/>
<circle cx="417.3" cy="377.1" r="1.84" fill="#e04a5b" stroke="#cc3448" stroke-width="0.4"/>
<circle cx="356.5" cy="379.7" r="2.17" fill="#e04a5b" stroke="#cc3448" stroke-width="0.4"/>
<circle cx="375.6" cy="381.8" r="2.13" fill="#e04a5b" stroke="#cc3448" stroke-width="0.4"/>
<circle cx="392.7" cy="381.7" r="1.90" fill="#e04a5b" stroke="#cc3448" stroke-width="0.4"/>
<circle cx="425.0" cy="379.2" r="1.65" fill="#e04a5b" stroke="#cc3448" stroke-width="0.4"/>
<circle cx="409.7" cy="377.6" r="1.95" fill="#e04a5b" stroke="#cc3448" stroke-width="0.4"/>
<circle cx="392.5" cy="378.2" r="2.23" fill="#e04a5b" stroke="#cc3448" stroke-width="0.4"/>
<circle cx="382.0" cy="377.0" r="2.22" fill="#e04a5b" stroke="#cc3448" stroke-width="0.4"/>
<circle cx="351.3" cy="381.7" r="1.98" fill="#e04a5b" stroke="#cc3448" stroke-width="0.4"/>
<circle cx="397.4" cy="382.4" r="2.14" fill="#e04a5b" stroke="#cc3448" stroke-width="0.4"/>
<circle cx="399.3" cy="377.8" r="1.85" fill="#e04a5b" stroke="#cc3448" stroke-width="0.4"/>
</g>
<rect x="474.6" y="370.8" width="51" height="14.4" fill="#efe0e2" stroke="#cdcdd2" stroke-width="0.9"/>
<circle cx="478.3" cy="374.7" r="3.0" fill="#de4858"/>
<circle cx="484.3" cy="374.6" r="3.0" fill="#de4858"/>
<circle cx="489.5" cy="374.7" r="3.0" fill="#de4858"/>
<circle cx="494.8" cy="374.6" r="3.0" fill="#de4858"/>
<circle cx="500.8" cy="374.9" r="3.0" fill="#de4858"/>
<circle cx="505.9" cy="374.4" r="3.0" fill="#de4858"/>
<circle cx="511.5" cy="374.9" r="3.0" fill="#de4858"/>
<circle cx="517.7" cy="374.1" r="3.0" fill="#de4858"/>
<circle cx="481.6" cy="381.6" r="3.0" fill="#de4858"/>
<circle cx="486.8" cy="381.1" r="3.0" fill="#de4858"/>
<circle cx="491.8" cy="381.4" r="3.0" fill="#de4858"/>
<circle cx="497.5" cy="381.1" r="3.0" fill="#de4858"/>
<circle cx="503.2" cy="380.9" r="3.0" fill="#de4858"/>
<circle cx="509.1" cy="381.3" r="3.0" fill="#de4858"/>
<circle cx="515.0" cy="381.4" r="3.0" fill="#de4858"/>
<circle cx="520.4" cy="381.4" r="3.0" fill="#de4858"/>
<circle cx="480.9" cy="378" r="2.4" fill="#e25262"/>
<circle cx="488.1" cy="378" r="2.4" fill="#e25262"/>
<circle cx="497.0" cy="378" r="2.4" fill="#e25262"/>
<circle cx="504.5" cy="378" r="2.4" fill="#e25262"/>
<circle cx="511.7" cy="378" r="2.4" fill="#e25262"/>
<circle cx="518.9" cy="378" r="2.4" fill="#e25262"/>
<g stroke="#7a7a7a" stroke-width="0.9" fill="none">
<polyline points="284.6,360.2 315,360.2 322.6,367.5"/>
<polyline points="284.6,375.6 320.6,375.6 332.6,386.9"/>
<polyline points="284.6,392.3 340.7,392.3 344.2,395.7"/>
<polyline points="284.6,411.2 332.6,411.2 341.7,401.7"/>
</g>
</g>
<circle cx="529.7" cy="401.5" r="3.9" fill="url(#ball)"/>
<circle cx="521.2" cy="407.6" r="3.9" fill="url(#ball)"/>
<circle cx="537.2" cy="406.6" r="3.9" fill="url(#ball)"/>
<circle cx="529.7" cy="411.1" r="3.9" fill="url(#ball)"/>
<circle cx="522.2" cy="416.6" r="3.9" fill="url(#ball)"/>
<circle cx="539.7" cy="415.6" r="3.9" fill="url(#ball)"/>
<circle cx="531.2" cy="420.1" r="3.9" fill="url(#ball)"/>
<text x="530.5" y="439.2" font-size="14.8" fill="#505050" text-anchor="middle">CiPSC-islets</text>
<clipPath id="dclip1"><ellipse cx="117.1" cy="534.8000000000001" rx="70" ry="17.6"/></clipPath>
<path d="M47.099999999999994,534.8000000000001 L47.099999999999994,560.3000000000001 A70,17.6 0 0 0 187.1,560.3000000000001 L187.1,534.8000000000001 Z" fill="#dfe6ef" stroke="#cbd3de" stroke-width="1"/>
<ellipse cx="117.1" cy="534.8000000000001" rx="70" ry="17.6" fill="#f7f9fb"/>
<ellipse cx="117.1" cy="550.8" rx="64" ry="14" fill="#e9eff5" stroke="#d3dbe5" stroke-width="0.9" clip-path="url(#dclip1)"/>
<ellipse cx="117.1" cy="534.8000000000001" rx="70" ry="17.6" fill="none" stroke="#cbd3de" stroke-width="1.1"/>
<ellipse cx="110.6" cy="546.3" rx="8.6" ry="6.1" fill="#f7dfe1" stroke="#e3a2aa" stroke-width="0.9" stroke-dasharray="0.9,0.5"/>
<ellipse cx="110.6" cy="546.3" rx="6.2" ry="4.4" fill="none" stroke="#f0c4c8" stroke-width="0.8"/>
<ellipse cx="110.6" cy="546.3" rx="4.6" ry="3.4" fill="#eb9aa3"/>
<ellipse cx="134.5" cy="548.6" rx="8.6" ry="6.1" fill="#f7dfe1" stroke="#e3a2aa" stroke-width="0.9" stroke-dasharray="0.9,0.5"/>
<ellipse cx="134.5" cy="548.6" rx="6.2" ry="4.4" fill="none" stroke="#f0c4c8" stroke-width="0.8"/>
<ellipse cx="134.5" cy="548.6" rx="4.6" ry="3.4" fill="#eb9aa3"/>
<ellipse cx="74.1" cy="558.2" rx="8.6" ry="6.1" fill="#f7dfe1" stroke="#e3a2aa" stroke-width="0.9" stroke-dasharray="0.9,0.5"/>
<ellipse cx="74.1" cy="558.2" rx="6.2" ry="4.4" fill="none" stroke="#f0c4c8" stroke-width="0.8"/>
<ellipse cx="74.1" cy="558.2" rx="4.6" ry="3.4" fill="#eb9aa3"/>
<ellipse cx="91.7" cy="565.4" rx="8.6" ry="6.1" fill="#f7dfe1" stroke="#e3a2aa" stroke-width="0.9" stroke-dasharray="0.9,0.5"/>
<ellipse cx="91.7" cy="565.4" rx="6.2" ry="4.4" fill="none" stroke="#f0c4c8" stroke-width="0.8"/>
<ellipse cx="91.7" cy="565.4" rx="4.6" ry="3.4" fill="#eb9aa3"/>
<ellipse cx="125.9" cy="561.4" rx="8.6" ry="6.1" fill="#f7dfe1" stroke="#e3a2aa" stroke-width="0.9" stroke-dasharray="0.9,0.5"/>
<ellipse cx="125.9" cy="561.4" rx="6.2" ry="4.4" fill="none" stroke="#f0c4c8" stroke-width="0.8"/>
<ellipse cx="125.9" cy="561.4" rx="4.6" ry="3.4" fill="#eb9aa3"/>
<ellipse cx="146.3" cy="561.4" rx="8.6" ry="6.1" fill="#f7dfe1" stroke="#e3a2aa" stroke-width="0.9" stroke-dasharray="0.9,0.5"/>
<ellipse cx="146.3" cy="561.4" rx="6.2" ry="4.4" fill="none" stroke="#f0c4c8" stroke-width="0.8"/>
<ellipse cx="146.3" cy="561.4" rx="4.6" ry="3.4" fill="#eb9aa3"/>
<clipPath id="dclip2"><ellipse cx="95.9" cy="706.7" rx="52.7" ry="13.2"/></clipPath>
<path d="M43.2,706.7 L43.2,725.2 A52.7,13.2 0 0 0 148.60000000000002,725.2 L148.60000000000002,706.7 Z" fill="#dfe6ef" stroke="#cbd3de" stroke-width="1"/>
<ellipse cx="95.9" cy="706.7" rx="52.7" ry="13.2" fill="#f7f9fb"/>
<ellipse cx="95.9" cy="718.8" rx="48" ry="11" fill="#e9eff5" stroke="#d3dbe5" stroke-width="0.9" clip-path="url(#dclip2)"/>
<ellipse cx="95.9" cy="706.7" rx="52.7" ry="13.2" fill="none" stroke="#cbd3de" stroke-width="1.1"/>
<path d="M82.7,712.5 L92,712.8 L100,714 L104.5,711 L107.5,709.5 L106.5,713.5 L108.5,716 L104,716 L99,718 L96,719.5 L91,718.5 L86,716 Z" fill="#f0a3a6"/>
<ellipse cx="92.5" cy="715.8" rx="2.8" ry="1.7" fill="#e57f8a"/>
<path d="M60.5,726.5 L66,723 L72,721 L75,718 L77,721 L83,722 L85.5,724 L80,725 L75,726 L70,727 L64,727.5 Z" fill="#f2c2c3"/>
<path d="M104,733 L106,728 L110,725.5 L115,725 L118,721 L120,723.5 L124.5,721 L127.5,723 L128.5,726.5 L123,726.5 L118,728 L112,730 L107,734 Z" fill="#f2c2c3"/>
<g stroke="#9a9a9a" stroke-width="0.6">
<line x1="36.2" y1="630.1" x2="43.1" y2="627.7"/>
<line x1="36.2" y1="630.1" x2="43.9" y2="632.5"/>
<line x1="43.1" y1="627.7" x2="47.9" y2="625.7"/>
<line x1="47.9" y1="625.7" x2="44.3" y2="622"/>
<line x1="47.9" y1="625.7" x2="53.1" y2="624.9"/>
<line x1="53.1" y1="624.9" x2="58.7" y2="626.1"/>
<line x1="58.7" y1="626.1" x2="62" y2="622.4"/>
<line x1="58.7" y1="626.1" x2="61.5" y2="629.7"/>
<line x1="43.9" y1="632.5" x2="49.1" y2="637.7"/>
<line x1="49.1" y1="637.7" x2="54.7" y2="634.1"/>
<line x1="54.7" y1="634.1" x2="58.7" y2="626.1"/>
<line x1="49.1" y1="637.7" x2="46.7" y2="642.1"/>
<line x1="49.1" y1="637.7" x2="51.5" y2="641.7"/>
</g>
<circle cx="36.2" cy="630.1" r="2.2" fill="#8e8e8e"/>
<circle cx="44.3" cy="622" r="1.5" fill="#8e8e8e"/>
<circle cx="47.9" cy="625.7" r="1.5" fill="#8e8e8e"/>
<circle cx="53.1" cy="624.9" r="1.3" fill="#8e8e8e"/>
<circle cx="58.7" cy="626.1" r="1.5" fill="#8e8e8e"/>
<circle cx="62" cy="622.4" r="1.1" fill="#8e8e8e"/>
<circle cx="61.5" cy="629.7" r="1.1" fill="#8e8e8e"/>
<circle cx="43.1" cy="627.7" r="1.1" fill="#8e8e8e"/>
<circle cx="43.9" cy="632.5" r="1.5" fill="#8e8e8e"/>
<circle cx="46.3" cy="629.7" r="0.9" fill="#8e8e8e"/>
<circle cx="54.7" cy="634.1" r="1.7" fill="#8e8e8e"/>
<circle cx="49.1" cy="637.7" r="2.3" fill="#8e8e8e"/>
<circle cx="46.7" cy="642.1" r="1.3" fill="#8e8e8e"/>
<circle cx="51.5" cy="641.7" r="1.3" fill="#8e8e8e"/>
<g stroke="#9ad0e0" stroke-width="0.5">
<line x1="78" y1="627.3" x2="84" y2="629.3"/>
<line x1="84" y1="629.3" x2="88.5" y2="627.7"/>
<line x1="84" y1="629.3" x2="84.4" y2="635.3"/>
<line x1="84.4" y1="635.3" x2="78.8" y2="638.9"/>
<line x1="84.4" y1="635.3" x2="87.2" y2="639.3"/>
<line x1="78" y1="627.3" x2="74.4" y2="624.5"/>
<line x1="78.8" y1="638.9" x2="76.4" y2="642.9"/>
<line x1="87.2" y1="639.3" x2="92.5" y2="642.9"/>
<line x1="88.5" y1="627.7" x2="90.9" y2="624.5"/>
</g>
<circle cx="74.4" cy="624.5" r="1.5" fill="#2aa7d6"/>
<circle cx="80" cy="624.9" r="1.3" fill="#2aa7d6"/>
<circle cx="82.8" cy="626.5" r="1.3" fill="#2aa7d6"/>
<circle cx="90.9" cy="624.5" r="1.2" fill="#2aa7d6"/>
<circle cx="76.4" cy="631.3" r="1.2" fill="#2aa7d6"/>
<circle cx="74" cy="634.1" r="1.7" fill="#2aa7d6"/>
<circle cx="90.1" cy="631.7" r="1.3" fill="#2aa7d6"/>
<circle cx="90.9" cy="636.1" r="1.5" fill="#2aa7d6"/>
<circle cx="92.9" cy="638.5" r="1.2" fill="#2aa7d6"/>
<circle cx="76.4" cy="642.9" r="1.5" fill="#2aa7d6"/>
<circle cx="81.2" cy="642.5" r="1.8" fill="#2aa7d6"/>
<circle cx="92.5" cy="642.9" r="1.8" fill="#2aa7d6"/>
<circle cx="78" cy="627.3" r="2.1" fill="#e24a4a"/>
<circle cx="84" cy="629.3" r="2.1" fill="#e24a4a"/>
<circle cx="88.5" cy="627.7" r="1.8" fill="#e24a4a"/>
<circle cx="84.4" cy="635.3" r="2.1" fill="#e24a4a"/>
<circle cx="78.8" cy="638.9" r="2.5" fill="#e24a4a"/>
<circle cx="87.2" cy="639.3" r="2.1" fill="#e24a4a"/>
<clipPath id="adclip"><circle cx="236.1" cy="709.7" r="24.5"/></clipPath>
<g clip-path="url(#adclip)">
<rect x="211" y="685" width="51" height="50" fill="#f0c961"/>
<circle cx="242.5" cy="725.2" r="2.0" fill="#f9e7a8" opacity="0.9"/>
<circle cx="258.2" cy="725.1" r="2.2" fill="#f9e7a8" opacity="0.9"/>
<circle cx="213.4" cy="714.7" r="2.2" fill="#f9e7a8" opacity="0.9"/>
<circle cx="243.8" cy="731.2" r="0.9" fill="#f9e7a8" opacity="0.9"/>
<circle cx="235.0" cy="706.4" r="1.6" fill="#f9e7a8" opacity="0.9"/>
<circle cx="240.1" cy="697.5" r="1.0" fill="#f9e7a8" opacity="0.9"/>
<circle cx="225.7" cy="731.8" r="1.9" fill="#f9e7a8" opacity="0.9"/>
<circle cx="219.8" cy="727.3" r="0.9" fill="#f9e7a8" opacity="0.9"/>
<circle cx="242.3" cy="701.8" r="0.7" fill="#f9e7a8" opacity="0.9"/>
<circle cx="254.7" cy="705.0" r="1.0" fill="#f9e7a8" opacity="0.9"/>
<circle cx="260.1" cy="730.2" r="1.2" fill="#f9e7a8" opacity="0.9"/>
<circle cx="259.1" cy="717.5" r="1.8" fill="#f9e7a8" opacity="0.9"/>
<circle cx="222.0" cy="732.8" r="1.8" fill="#f9e7a8" opacity="0.9"/>
<circle cx="259.4" cy="731.0" r="1.2" fill="#f9e7a8" opacity="0.9"/>
<circle cx="229.7" cy="703.3" r="0.9" fill="#f9e7a8" opacity="0.9"/>
<circle cx="215.2" cy="708.5" r="1.7" fill="#f9e7a8" opacity="0.9"/>
<circle cx="212.2" cy="722.8" r="1.2" fill="#f9e7a8" opacity="0.9"/>
<circle cx="227.2" cy="728.1" r="1.5" fill="#f9e7a8" opacity="0.9"/>
<circle cx="227.5" cy="715.3" r="1.8" fill="#f9e7a8" opacity="0.9"/>
<circle cx="214.8" cy="734.1" r="0.7" fill="#f9e7a8" opacity="0.9"/>
<circle cx="248.7" cy="729.1" r="0.7" fill="#f9e7a8" opacity="0.9"/>
<circle cx="250.6" cy="710.9" r="1.6" fill="#f9e7a8" opacity="0.9"/>
<circle cx="212.4" cy="698.8" r="1.0" fill="#f9e7a8" opacity="0.9"/>
<circle cx="258.8" cy="704.5" r="1.9" fill="#f9e7a8" opacity="0.9"/>
<circle cx="257.6" cy="732.8" r="1.3" fill="#f9e7a8" opacity="0.9"/>
<circle cx="229.4" cy="716.9" r="1.9" fill="#f9e7a8" opacity="0.9"/>
<circle cx="217.3" cy="725.4" r="2.0" fill="#f9e7a8" opacity="0.9"/>
<circle cx="254.1" cy="698.4" r="2.2" fill="#f9e7a8" opacity="0.9"/>
<circle cx="216.5" cy="709.9" r="1.7" fill="#f9e7a8" opacity="0.9"/>
<circle cx="257.0" cy="709.9" r="2.2" fill="#f9e7a8" opacity="0.9"/>
<circle cx="238.7" cy="708.9" r="1.2" fill="#f9e7a8" opacity="0.9"/>
<circle cx="220.7" cy="700.0" r="0.9" fill="#f9e7a8" opacity="0.9"/>
<circle cx="245.8" cy="734.9" r="1.0" fill="#f9e7a8" opacity="0.9"/>
<circle cx="214.4" cy="734.5" r="1.6" fill="#f9e7a8" opacity="0.9"/>
<circle cx="231.9" cy="706.0" r="1.7" fill="#f9e7a8" opacity="0.9"/>
<circle cx="252.5" cy="714.3" r="1.4" fill="#f9e7a8" opacity="0.9"/>
<circle cx="214.7" cy="731.8" r="0.8" fill="#f9e7a8" opacity="0.9"/>
<circle cx="236.2" cy="728.9" r="0.9" fill="#f9e7a8" opacity="0.9"/>
<circle cx="247.9" cy="733.1" r="1.7" fill="#f9e7a8" opacity="0.9"/>
<circle cx="250.6" cy="701.1" r="1.4" fill="#f9e7a8" opacity="0.9"/>
<circle cx="219.3" cy="729.1" r="1.2" fill="#f9e7a8" opacity="0.9"/>
<circle cx="234.2" cy="735.0" r="2.1" fill="#f9e7a8" opacity="0.9"/>
<circle cx="259.8" cy="714.2" r="1.5" fill="#f9e7a8" opacity="0.9"/>
<circle cx="247.7" cy="715.2" r="1.2" fill="#f9e7a8" opacity="0.9"/>
<circle cx="231.8" cy="702.6" r="1.3" fill="#f9e7a8" opacity="0.9"/>
<circle cx="260.4" cy="733.5" r="1.7" fill="#f9e7a8" opacity="0.9"/>
<circle cx="236.5" cy="709.9" r="0.8" fill="#f9e7a8" opacity="0.9"/>
<circle cx="225.3" cy="726.7" r="2.1" fill="#f9e7a8" opacity="0.9"/>
<circle cx="229.7" cy="726.9" r="1.9" fill="#f9e7a8" opacity="0.9"/>
<circle cx="246.0" cy="722.2" r="1.9" fill="#f9e7a8" opacity="0.9"/>
<circle cx="229.8" cy="723.8" r="1.1" fill="#f9e7a8" opacity="0.9"/>
<circle cx="235.8" cy="726.3" r="1.8" fill="#f9e7a8" opacity="0.9"/>
<circle cx="226.4" cy="732.9" r="1.7" fill="#f9e7a8" opacity="0.9"/>
<circle cx="240.5" cy="697.4" r="1.6" fill="#f9e7a8" opacity="0.9"/>
<circle cx="224.3" cy="722.5" r="1.4" fill="#f9e7a8" opacity="0.9"/>
<circle cx="252.0" cy="721.6" r="2.0" fill="#f9e7a8" opacity="0.9"/>
<circle cx="229.0" cy="721.5" r="1.9" fill="#f9e7a8" opacity="0.9"/>
<circle cx="252.6" cy="710.3" r="2.0" fill="#f9e7a8" opacity="0.9"/>
<circle cx="254.6" cy="723.2" r="2.3" fill="#f9e7a8" opacity="0.9"/>
<circle cx="258.9" cy="716.7" r="1.5" fill="#f9e7a8" opacity="0.9"/>
<circle cx="220.1" cy="728.8" r="2.2" fill="#f9e7a8" opacity="0.9"/>
<circle cx="235.4" cy="723.3" r="1.9" fill="#f9e7a8" opacity="0.9"/>
<circle cx="247.8" cy="703.5" r="1.9" fill="#f9e7a8" opacity="0.9"/>
<circle cx="240.5" cy="722.3" r="1.4" fill="#f9e7a8" opacity="0.9"/>
<circle cx="242.6" cy="726.4" r="1.7" fill="#f9e7a8" opacity="0.9"/>
<circle cx="247.3" cy="698.0" r="1.0" fill="#f9e7a8" opacity="0.9"/>
<circle cx="233.6" cy="721.7" r="1.1" fill="#f9e7a8" opacity="0.9"/>
<circle cx="245.6" cy="721.0" r="0.8" fill="#f9e7a8" opacity="0.9"/>
<circle cx="235.1" cy="705.6" r="0.8" fill="#f9e7a8" opacity="0.9"/>
<circle cx="218.5" cy="709.1" r="1.0" fill="#f9e7a8" opacity="0.9"/>
<circle cx="221.5" cy="698.4" r="1.4" fill="#f9e7a8" opacity="0.9"/>
<circle cx="230.6" cy="720.2" r="1.6" fill="#f9e7a8" opacity="0.9"/>
<circle cx="223.7" cy="731.3" r="0.7" fill="#f9e7a8" opacity="0.9"/>
<circle cx="231.9" cy="707.6" r="1.4" fill="#f9e7a8" opacity="0.9"/>
<circle cx="217.6" cy="728.6" r="1.3" fill="#f9e7a8" opacity="0.9"/>
<circle cx="213.8" cy="720.3" r="0.9" fill="#f9e7a8" opacity="0.9"/>
<circle cx="238.7" cy="709.9" r="1.6" fill="#f9e7a8" opacity="0.9"/>
<circle cx="259.0" cy="728.1" r="1.4" fill="#f9e7a8" opacity="0.9"/>
<circle cx="251.8" cy="721.4" r="1.3" fill="#f9e7a8" opacity="0.9"/>
<circle cx="219.0" cy="719.6" r="1.6" fill="#f9e7a8" opacity="0.9"/>
<circle cx="258.9" cy="733.8" r="1.7" fill="#f9e7a8" opacity="0.9"/>
<circle cx="229.2" cy="731.0" r="0.7" fill="#f9e7a8" opacity="0.9"/>
<circle cx="217.3" cy="718.5" r="1.7" fill="#f9e7a8" opacity="0.9"/>
<circle cx="218.9" cy="720.9" r="2.1" fill="#f9e7a8" opacity="0.9"/>
<circle cx="230.4" cy="713.4" r="1.1" fill="#f9e7a8" opacity="0.9"/>
<circle cx="226.3" cy="734.0" r="1.3" fill="#f9e7a8" opacity="0.9"/>
<circle cx="259.1" cy="731.7" r="1.7" fill="#f9e7a8" opacity="0.9"/>
<circle cx="224.7" cy="734.3" r="1.5" fill="#f9e7a8" opacity="0.9"/>
<circle cx="232.4" cy="709.1" r="2.3" fill="#f9e7a8" opacity="0.9"/>
<circle cx="236.1" cy="707.9" r="1.5" fill="#f9e7a8" opacity="0.9"/>
<circle cx="218.0" cy="720.6" r="1.4" fill="#f9e7a8" opacity="0.9"/>
<circle cx="226.4" cy="726.7" r="2.0" fill="#f9e7a8" opacity="0.9"/>
<circle cx="212.6" cy="717.2" r="1.1" fill="#f9e7a8" opacity="0.9"/>
<circle cx="257.8" cy="726.7" r="1.1" fill="#f9e7a8" opacity="0.9"/>
<circle cx="225.1" cy="702.9" r="2.3" fill="#f9e7a8" opacity="0.9"/>
<circle cx="226.4" cy="720.1" r="1.5" fill="#f9e7a8" opacity="0.9"/>
<circle cx="243.6" cy="719.9" r="1.9" fill="#f9e7a8" opacity="0.9"/>
<circle cx="217.8" cy="725.9" r="1.2" fill="#f9e7a8" opacity="0.9"/>
<circle cx="238.1" cy="709.8" r="1.2" fill="#f9e7a8" opacity="0.9"/>
<circle cx="238.0" cy="714.6" r="1.3" fill="#f9e7a8" opacity="0.9"/>
<circle cx="248.5" cy="719.5" r="0.8" fill="#f9e7a8" opacity="0.9"/>
<circle cx="224.4" cy="714.3" r="2.2" fill="#f9e7a8" opacity="0.9"/>
<circle cx="255.5" cy="717.7" r="0.7" fill="#f9e7a8" opacity="0.9"/>
<circle cx="250.1" cy="713.3" r="1.6" fill="#f9e7a8" opacity="0.9"/>
<circle cx="246.7" cy="721.0" r="1.5" fill="#f9e7a8" opacity="0.9"/>
<circle cx="256.7" cy="711.6" r="1.3" fill="#f9e7a8" opacity="0.9"/>
<circle cx="253.7" cy="704.5" r="1.2" fill="#f9e7a8" opacity="0.9"/>
<circle cx="252.7" cy="699.5" r="2.0" fill="#f9e7a8" opacity="0.9"/>
<circle cx="246.0" cy="713.4" r="1.2" fill="#f9e7a8" opacity="0.9"/>
<circle cx="250.3" cy="731.6" r="0.9" fill="#f9e7a8" opacity="0.9"/>
<path d="M210,684 L262,684 L262,694.5 C255,693 250,694 245,696.5 C238,699.5 228,698 220,697 L210,697 Z" fill="#cc829c"/>
<path d="M210,697 C228,698 238,699.5 245,696.5 C250,694 255,693 262,694.5" fill="none" stroke="#f2c6c9" stroke-width="1.3"/>
</g>
<text x="235" y="746.7" font-size="9.8" fill="#505050" text-anchor="middle">adipose tissue</text>
<g id="body">
<path d="M458.3,517.2 C449,517.5 442,522 439.5,530 C438,535 438,539 438.3,541 C435.5,541 435,545 436.5,550 C437.5,553 439.5,555 441.5,556 C442,560 443,564 444,566.5 L443.5,575 C438,580 430,583 418,587 C410,590 404,596 402.9,602.5 C402,610 402.1,615 402.1,621.2 C401.5,630 400.5,637 399,644.5 C396,655 393,663 390.4,671 C387,679 385,683 382.6,686.6 C379,697 377,704 375.6,710 C374,712 372,713.5 370.2,714.6 C367,717 364,720 362.4,722.4 C360,725 358,728 356.9,730.2 C357.5,732 359.5,732.3 360.8,731.7 C362,730 363.5,728 364.7,727 C364.5,731 365,736 365.6,739.5 C371,741 377,742 382.6,741.9 C384,736 385,730 385.8,724 C388,716 391,709 393.6,702.1 C397,693 400,686 404.4,678.8 C409,670 413,662 416.9,655.4 C418.5,650 420,645 420.8,640.5 C423,648 425.5,656 426.3,663.2 C426,668 425.5,673 424.7,677.2 C423,683 421,687 420,691.2 L420,737.5 L458.3,737.5 Z" fill="#f9e3d8"/>
<path d="M457.3,517.2 C466.6,517.5 473.6,522.0 476.1,530.0 C477.6,535.0 477.6,539.0 477.3,541.0 C480.1,541.0 480.6,545.0 479.1,550.0 C478.1,553.0 476.1,555.0 474.1,556.0 C473.6,560.0 472.6,564.0 471.6,566.5 L472.1,575.0 C477.6,580.0 485.6,583.0 497.6,587.0 C505.6,590.0 511.6,596.0 512.7,602.5 C513.6,610.0 513.5,615.0 513.5,621.2 C514.1,630.0 515.1,637.0 516.6,644.5 C519.6,655.0 522.6,663.0 525.2,671.0 C528.6,679.0 530.6,683.0 533.0,686.6 C536.6,697.0 538.6,704.0 540.0,710.0 C541.6,712.0 543.6,713.5 545.4,714.6 C548.6,717.0 551.6,720.0 553.2,722.4 C555.6,725.0 557.6,728.0 558.7,730.2 C558.1,732.0 556.1,732.3 554.8,731.7 C553.6,730.0 552.1,728.0 550.9,727.0 C551.1,731.0 550.6,736.0 550.0,739.5 C544.6,741.0 538.6,742.0 533.0,741.9 C531.6,736.0 530.6,730.0 529.8,724.0 C527.6,716.0 524.6,709.0 522.0,702.1 C518.6,693.0 515.6,686.0 511.2,678.8 C506.6,670.0 502.6,662.0 498.7,655.4 C497.1,650.0 495.6,645.0 494.8,640.5 C492.6,648.0 490.1,656.0 489.3,663.2 C489.6,668.0 490.1,673.0 490.9,677.2 C492.6,683.0 494.6,687.0 495.6,691.2 L495.6,737.5 L457.3,737.5  Z" fill="#f9e3d8"/>
<path d="M458.3,517.2 C449,517.5 442,522 439.5,530 C438,535 438,539 438.3,541 C435.5,541 435,545 436.5,550 C437.5,553 439.5,555 441.5,556 C442,560 443,564 444,566.5 L443.5,575 C438,580 430,583 418,587 C410,590 404,596 402.9,602.5 C402,610 402.1,615 402.1,621.2 C401.5,630 400.5,637 399,644.5 C396,655 393,663 390.4,671 C387,679 385,683 382.6,686.6 C379,697 377,704 375.6,710 C374,712 372,713.5 370.2,714.6 C367,717 364,720 362.4,722.4 C360,725 358,728 356.9,730.2 C357.5,732 359.5,732.3 360.8,731.7 C362,730 363.5,728 364.7,727 C364.5,731 365,736 365.6,739.5 C371,741 377,742 382.6,741.9 C384,736 385,730 385.8,724 C388,716 391,709 393.6,702.1 C397,693 400,686 404.4,678.8 C409,670 413,662 416.9,655.4 C418.5,650 420,645 420.8,640.5 C423,648 425.5,656 426.3,663.2 C426,668 425.5,673 424.7,677.2 C423,683 421,687 420,691.2 L420,737.5 L458.3,737.5" fill="none" stroke="#f1cdb4" stroke-width="1"/>
<path d="M457.3,517.2 C466.6,517.5 473.6,522.0 476.1,530.0 C477.6,535.0 477.6,539.0 477.3,541.0 C480.1,541.0 480.6,545.0 479.1,550.0 C478.1,553.0 476.1,555.0 474.1,556.0 C473.6,560.0 472.6,564.0 471.6,566.5 L472.1,575.0 C477.6,580.0 485.6,583.0 497.6,587.0 C505.6,590.0 511.6,596.0 512.7,602.5 C513.6,610.0 513.5,615.0 513.5,621.2 C514.1,630.0 515.1,637.0 516.6,644.5 C519.6,655.0 522.6,663.0 525.2,671.0 C528.6,679.0 530.6,683.0 533.0,686.6 C536.6,697.0 538.6,704.0 540.0,710.0 C541.6,712.0 543.6,713.5 545.4,714.6 C548.6,717.0 551.6,720.0 553.2,722.4 C555.6,725.0 557.6,728.0 558.7,730.2 C558.1,732.0 556.1,732.3 554.8,731.7 C553.6,730.0 552.1,728.0 550.9,727.0 C551.1,731.0 550.6,736.0 550.0,739.5 C544.6,741.0 538.6,742.0 533.0,741.9 C531.6,736.0 530.6,730.0 529.8,724.0 C527.6,716.0 524.6,709.0 522.0,702.1 C518.6,693.0 515.6,686.0 511.2,678.8 C506.6,670.0 502.6,662.0 498.7,655.4 C497.1,650.0 495.6,645.0 494.8,640.5 C492.6,648.0 490.1,656.0 489.3,663.2 C489.6,668.0 490.1,673.0 490.9,677.2 C492.6,683.0 494.6,687.0 495.6,691.2 L495.6,737.5 L457.3,737.5 " fill="none" stroke="#f1cdb4" stroke-width="1"/>
<rect x="419.5" y="737" width="77" height="2" fill="#f9e3d8"/>
<g fill="none" stroke="#f2cfb8" stroke-width="0.75">
<path d="M444.5,566 C448,578 452,590 456.3,600"/>
<path d="M471,566 C467,578 463,590 459.3,600"/>
<path d="M424,588 C435,592 447,598 456,604"/>
<path d="M491.6,588 C480.6,592 468.6,598 459.6,604"/>
<path d="M412,616 C422,621 438,623 451,622.5"/>
<path d="M503.6,616 C493.6,621 477.6,623 464.6,622.5"/>
<path d="M418.5,599 C416,606 416,615 417.5,624 C418.5,632 419,638 419,643"/>
<path d="M497.1,599 C499.6,606 499.6,615 498.1,624 C497.1,632 496.6,638 496.6,643"/>
<path d="M404,615 C410,618 414,621 417,624"/>
<path d="M511.6,615 C505.6,618 501.6,621 498.6,624"/>
<path d="M404.4,668 C398,685 390,698 384.2,708.4"/>
<path d="M511.2,668 C517.6,685 525.6,698 531.4,708.4"/>
<path d="M412.2,657 L402.9,664.8"/>
<path d="M503.4,657 L512.7,664.8"/>
<path d="M415.3,627.4 C412,640 408,655 405.2,667.9"/>
<path d="M500.3,627.4 C503.6,640 507.6,655 510.4,667.9"/>
<path d="M428,640 C431,655 434,670 437,690"/>
<path d="M487.6,640 C484.6,655 481.6,670 478.6,690"/>
<path d="M424,700 C430,712 440,722 450,730"/>
<path d="M491.6,700 C485.6,712 475.6,722 465.6,730"/>
<path d="M439.5,552 C442,561 449,569 457.8,571 C466.6,569 473.6,561 476.1,552"/>
<path d="M443.5,538 C443.5,530 447,526 457.8,525.5 C468.6,526 472.1,530 472.1,538"/>
<path d="M454,560.5 C456,559.8 459.6,559.8 461.6,560.5"/>
<path d="M456,553.5 L459.6,553.5"/>
</g>
<path d="M455.8,643.3 C449,646 443,651 442,656 L441.2,700 C442,706 446,711 451,713 L457.5,714.6 L464,713 C469,711 472,707 473,702 L473.4,660 C472,652 467,646 459.8,643.3 Z" fill="#f8e2e0" stroke="#d3ebec" stroke-width="1.6"/>
<path d="M443.5,657 C445,650 450,646 456.5,645.5 L456.8,662 C452,665 446,664 443.3,662 Z" fill="#f1c2c4"/>
<path d="M459,645.5 C466,646 471,651 472,657 L472.3,662 C469,664 463,665 459,662 Z" fill="#f1c2c4"/>
<path d="M443.3,664.5 C447,663.5 452,664 456.8,664 L456.8,681 C452,682 446,682 443,680 Z" fill="#f1c2c4"/>
<path d="M459,664 C463,664 469,663.5 472.3,664.5 L472.3,680 C469,682 463,682 459,681 Z" fill="#f1c2c4"/>
<path d="M443,682.5 C447,683 452,683.5 456.8,683 L456.8,698 C452,699.5 446,699 442.6,697 Z" fill="#f1c2c4"/>
<path d="M459,683 C463,683.5 469,683 472.2,682.5 L472.2,697 C469,699 463,699.5 459,698 Z" fill="#f1c2c4"/>
<path d="M442.6,699.5 C446,701 452,701 456.8,700.5 L456.8,712.5 C452,712 447,710 443.5,705 Z" fill="#f1c2c4"/>
<path d="M459,700.5 C463,701 469,701 472.2,699.5 L471.8,705 C469,710 464,712 459,712.5 Z" fill="#f1c2c4"/>
<g stroke="#f9e6e6" stroke-width="0.45" opacity="0.9" fill="none">
<path d="M444.2,648 C445.2,654.0 443.2,654.0 444.5,660"/>
<path d="M448.0,648 C449.0,654.0 447.0,654.0 448.3,660"/>
<path d="M451.2,648 C452.2,654.0 450.2,654.0 451.5,660"/>
<path d="M454.4,648 C455.4,654.0 453.4,654.0 454.7,660"/>
<path d="M460.2,648 C461.2,654.0 459.2,654.0 460.5,660"/>
<path d="M464.1,648 C465.1,654.0 463.1,654.0 464.4,660"/>
<path d="M467.4,648 C468.4,654.0 466.4,654.0 467.7,660"/>
<path d="M470.4,648 C471.4,654.0 469.4,654.0 470.7,660"/>
<path d="M444.5,666 C445.5,672.5 443.5,672.5 444.8,679"/>
<path d="M447.5,666 C448.5,672.5 446.5,672.5 447.8,679"/>
<path d="M450.6,666 C451.6,672.5 449.6,672.5 450.9,679"/>
<path d="M454.3,666 C455.3,672.5 453.3,672.5 454.6,679"/>
<path d="M460.6,666 C461.6,672.5 459.6,672.5 460.9,679"/>
<path d="M463.4,666 C464.4,672.5 462.4,672.5 463.7,679"/>
<path d="M467.4,666 C468.4,672.5 466.4,672.5 467.7,679"/>
<path d="M470.1,666 C471.1,672.5 469.1,672.5 470.4,679"/>
<path d="M444.2,685 C445.2,690.5 443.2,690.5 444.5,696"/>
<path d="M447.3,685 C448.3,690.5 446.3,690.5 447.6,696"/>
<path d="M451.6,685 C452.6,690.5 450.6,690.5 451.9,696"/>
<path d="M454.6,685 C455.6,690.5 453.6,690.5 454.9,696"/>
<path d="M460.9,685 C461.9,690.5 459.9,690.5 461.2,696"/>
<path d="M463.9,685 C464.9,690.5 462.9,690.5 464.2,696"/>
<path d="M466.6,685 C467.6,690.5 465.6,690.5 466.9,696"/>
<path d="M470.2,685 C471.2,690.5 469.2,690.5 470.5,696"/>
<path d="M444.5,702.5 C445.5,706.2 443.5,706.2 444.8,710"/>
<path d="M447.4,702.5 C448.4,706.2 446.4,706.2 447.7,710"/>
<path d="M451.6,702.5 C452.6,706.2 450.6,706.2 451.9,710"/>
<path d="M454.3,702.5 C455.3,706.2 453.3,706.2 454.6,710"/>
<path d="M460.2,702.5 C461.2,706.2 459.2,706.2 460.5,710"/>
<path d="M464.1,702.5 C465.1,706.2 463.1,706.2 464.4,710"/>
<path d="M466.7,702.5 C467.7,706.2 465.7,706.2 467.0,710"/>
<path d="M470.8,702.5 C471.8,706.2 469.8,706.2 471.1,710"/>
</g>
<rect x="456" y="682.3" width="27.7" height="15.7" fill="none" stroke="#d42a2a" stroke-width="1.4" stroke-dasharray="1.4,0.9"/>
<rect x="472.3" y="687.5" width="1" height="4" fill="#8a8ad0"/>
</g>
<g stroke="#222" stroke-width="1.1" fill="none">
<polyline points="645.5,265.8 645.5,357 972,357"/>
<line x1="641.7" y1="354.3" x2="645.5" y2="354.3"/>
<line x1="641.7" y1="339.7" x2="645.5" y2="339.7"/>
<line x1="641.7" y1="325.0" x2="645.5" y2="325.0"/>
<line x1="641.7" y1="310.4" x2="645.5" y2="310.4"/>
<line x1="641.7" y1="295.8" x2="645.5" y2="295.8"/>
<line x1="641.7" y1="281.1" x2="645.5" y2="281.1"/>
<line x1="641.7" y1="266.5" x2="645.5" y2="266.5"/>
<line x1="646.6" y1="357" x2="646.6" y2="360.2"/>
<line x1="659.8" y1="357" x2="659.8" y2="359.2"/>
<line x1="673.0" y1="357" x2="673.0" y2="360.2"/>
<line x1="686.2" y1="357" x2="686.2" y2="359.2"/>
<line x1="699.4" y1="357" x2="699.4" y2="360.2"/>
<line x1="712.6" y1="357" x2="712.6" y2="359.2"/>
<line x1="725.8" y1="357" x2="725.8" y2="360.2"/>
<line x1="739.0" y1="357" x2="739.0" y2="359.2"/>
<line x1="752.2" y1="357" x2="752.2" y2="360.2"/>
<line x1="765.4" y1="357" x2="765.4" y2="359.2"/>
<line x1="778.6" y1="357" x2="778.6" y2="360.2"/>
<line x1="791.8" y1="357" x2="791.8" y2="359.2"/>
<line x1="805.0" y1="357" x2="805.0" y2="360.2"/>
<line x1="818.2" y1="357" x2="818.2" y2="359.2"/>
<line x1="831.4" y1="357" x2="831.4" y2="360.2"/>
<line x1="844.6" y1="357" x2="844.6" y2="359.2"/>
<line x1="857.8" y1="357" x2="857.8" y2="360.2"/>
<line x1="871.0" y1="357" x2="871.0" y2="359.2"/>
<line x1="884.2" y1="357" x2="884.2" y2="360.2"/>
<line x1="897.4" y1="357" x2="897.4" y2="359.2"/>
<line x1="910.6" y1="357" x2="910.6" y2="360.2"/>
<line x1="923.8" y1="357" x2="923.8" y2="359.2"/>
<line x1="937.0" y1="357" x2="937.0" y2="360.2"/>
<line x1="950.2" y1="357" x2="950.2" y2="359.2"/>
<line x1="963.4" y1="357" x2="963.4" y2="360.2"/>
</g>
<g font-size="7.6" fill="#222" text-anchor="end">
<text x="640" y="357.0">0</text>
<text x="640" y="342.4">10</text>
<text x="640" y="327.7">20</text>
<text x="640" y="313.1">30</text>
<text x="640" y="298.5">40</text>
<text x="640" y="283.8">50</text>
<text x="640" y="269.2">60</text>
</g>
<g font-size="7.6" fill="#222" text-anchor="middle">
<text x="647.1" y="369.8">Baseline</text>
<text x="673.5" y="369.8">30</text>
<text x="699.9" y="369.8">60</text>
<text x="726.3" y="369.8">90</text>
<text x="752.7" y="369.8">120</text>
<text x="779.1" y="369.8">150</text>
<text x="805.5" y="369.8">180</text>
<text x="831.9" y="369.8">210</text>
<text x="858.3" y="369.8">240</text>
<text x="884.7" y="369.8">270</text>
<text x="911.1" y="369.8">300</text>
<text x="937.5" y="369.8">330</text>
<text x="963.9" y="369.8">360</text>
<text x="810.6" y="380.9">Days post transplantation</text>
<text transform="translate(627.2,311.2) rotate(-90)" x="0" y="0" font-size="7.3">Insulin requirement (Units/day)</text>
</g>
<polyline points="646.6,275.3 650.4,326.8 651.9,319.2 653.1,307.8 654.2,324.2 655.8,313.3 656.5,321.4 657.6,316.3 658.5,319.2 661.3,303.8 662.6,291.4 663.8,298.7 665.3,306.5 666.0,303.1 666.8,301.6 668.0,311.9 668.6,308.9 670.1,317.3 671.2,314.8 672.8,325.5 673.9,322.1 675.5,317.3 677.5,329.4 679.6,322.1 681.6,325.5 684.3,333.7 685.7,330.2 687.1,336.7 689.7,343.0 691.1,338.9 693.2,341.7 694.6,341.4 695.9,345.8 697.6,344.8 699.9,345.1 702.0,349.9 703.9,348.4 706.0,351.2 709.4,353.9 711.4,353.1 712.6,354.3 967.8,354.3" fill="none" stroke="#3a70bd" stroke-width="1.5" stroke-linejoin="round"/>
<line x1="644.4" y1="273.1" x2="648.8" y2="273.1" stroke="#3a70bd" stroke-width="1"/>
<line x1="644.4" y1="277.0" x2="648.8" y2="277.0" stroke="#3a70bd" stroke-width="1"/>
<g stroke="#333" stroke-width="1.4" fill="none">
<polyline points="721.6,495.4 721.6,599.6 866.2,599.6"/>
<line x1="718" y1="599.6" x2="721.6" y2="599.6"/>
<line x1="718" y1="573.6" x2="721.6" y2="573.6"/>
<line x1="718" y1="547.5" x2="721.6" y2="547.5"/>
<line x1="718" y1="521.5" x2="721.6" y2="521.5"/>
<line x1="718" y1="495.4" x2="721.6" y2="495.4"/>
</g>
<rect x="728.9" y="506.6" width="15.4" height="93.0" fill="#9b9b9f"/>
<line x1="736.6" y1="599.6" x2="736.6" y2="604.3" stroke="#222" stroke-width="1.1"/>
<text transform="translate(738.4,612) rotate(-45)" font-size="8.9" fill="#222" text-anchor="end">Baseline</text>
<rect x="747.9" y="534.5" width="15.4" height="65.1" fill="#3b72c0"/>
<line x1="755.6" y1="599.6" x2="755.6" y2="604.3" stroke="#222" stroke-width="1.1"/>
<text transform="translate(757.4,612) rotate(-45)" font-size="8.9" fill="#222" text-anchor="end">Day 75</text>
<rect x="766.8" y="564.2" width="15.4" height="35.4" fill="#3b72c0"/>
<line x1="774.5" y1="599.6" x2="774.5" y2="604.3" stroke="#222" stroke-width="1.1"/>
<text transform="translate(776.3,612) rotate(-45)" font-size="8.9" fill="#222" text-anchor="end">Day 120</text>
<rect x="785.8" y="583.4" width="15.4" height="16.2" fill="#3b72c0"/>
<line x1="793.5" y1="599.6" x2="793.5" y2="604.3" stroke="#222" stroke-width="1.1"/>
<text transform="translate(795.3,612) rotate(-45)" font-size="8.9" fill="#222" text-anchor="end">Day 180</text>
<rect x="804.8" y="575.4" width="15.4" height="24.2" fill="#3b72c0"/>
<line x1="812.5" y1="599.6" x2="812.5" y2="604.3" stroke="#222" stroke-width="1.1"/>
<text transform="translate(814.3,612) rotate(-45)" font-size="8.9" fill="#222" text-anchor="end">Day 240</text>
<rect x="823.8" y="573.3" width="15.4" height="26.3" fill="#3b72c0"/>
<line x1="831.5" y1="599.6" x2="831.5" y2="604.3" stroke="#222" stroke-width="1.1"/>
<text transform="translate(833.2,612) rotate(-45)" font-size="8.9" fill="#222" text-anchor="end">Day 300</text>
<rect x="842.7" y="580.1" width="15.4" height="19.5" fill="#3b72c0"/>
<line x1="850.4" y1="599.6" x2="850.4" y2="604.3" stroke="#222" stroke-width="1.1"/>
<text transform="translate(852.2,612) rotate(-45)" font-size="8.9" fill="#222" text-anchor="end">Day 365</text>
<g font-size="8.7" fill="#222" text-anchor="end">
<text x="716" y="602.6">4</text>
<text x="716" y="576.6">5</text>
<text x="716" y="550.5">6</text>
<text x="716" y="524.5">7</text>
<text x="716" y="498.4">8</text>
</g>
<text transform="translate(706,546.5) rotate(-90)" font-size="8.8" fill="#222" text-anchor="middle">HbA1c (%)</text>
<rect x="685.50" y="876.89" width="16.3" height="1.61" fill="#e8291e" stroke="#5a3c20" stroke-opacity="0.45" stroke-width="0.6"/>
<rect x="685.50" y="873.13" width="16.3" height="3.76" fill="#8b1f1f" stroke="#5a3c20" stroke-opacity="0.45" stroke-width="0.6"/>
<rect x="685.50" y="825.92" width="16.3" height="47.21" fill="#56983e" stroke="#5a3c20" stroke-opacity="0.45" stroke-width="0.6"/>
<rect x="685.50" y="791.59" width="16.3" height="34.34" fill="#dbb064" stroke="#5a3c20" stroke-opacity="0.45" stroke-width="0.6"/>
<rect x="685.50" y="771.20" width="16.3" height="20.39" fill="#e8967a" stroke="#5a3c20" stroke-opacity="0.45" stroke-width="0.6"/>
<line x1="685.50" y1="876.89" x2="701.80" y2="876.89" stroke="#6b4a30" stroke-width="0.35" opacity="0.6"/>
<line x1="685.50" y1="873.13" x2="701.80" y2="873.13" stroke="#6b4a30" stroke-width="0.35" opacity="0.6"/>
<line x1="685.50" y1="825.92" x2="701.80" y2="825.92" stroke="#6b4a30" stroke-width="0.35" opacity="0.6"/>
<line x1="685.50" y1="791.59" x2="701.80" y2="791.59" stroke="#6b4a30" stroke-width="0.35" opacity="0.6"/>
<line x1="693.65" y1="878.5" x2="693.65" y2="882.9" stroke="#222" stroke-width="1.1"/>
<text transform="translate(697.1,887) rotate(-45)" font-size="8.6" fill="#262626" text-anchor="end">Baseline</text>
<rect x="704.89" y="878.07" width="16.3" height="0.43" fill="#e8291e" stroke="#5a3c20" stroke-opacity="0.45" stroke-width="0.6"/>
<rect x="704.89" y="876.35" width="16.3" height="1.72" fill="#8b1f1f" stroke="#5a3c20" stroke-opacity="0.45" stroke-width="0.6"/>
<rect x="704.89" y="825.92" width="16.3" height="50.43" fill="#56983e" stroke="#5a3c20" stroke-opacity="0.45" stroke-width="0.6"/>
<rect x="704.89" y="785.69" width="16.3" height="40.24" fill="#dbb064" stroke="#5a3c20" stroke-opacity="0.45" stroke-width="0.6"/>
<rect x="704.89" y="771.20" width="16.3" height="14.49" fill="#e8967a" stroke="#5a3c20" stroke-opacity="0.45" stroke-width="0.6"/>
<line x1="704.89" y1="878.07" x2="721.19" y2="878.07" stroke="#6b4a30" stroke-width="0.35" opacity="0.6"/>
<line x1="704.89" y1="876.35" x2="721.19" y2="876.35" stroke="#6b4a30" stroke-width="0.35" opacity="0.6"/>
<line x1="704.89" y1="825.92" x2="721.19" y2="825.92" stroke="#6b4a30" stroke-width="0.35" opacity="0.6"/>
<line x1="704.89" y1="785.69" x2="721.19" y2="785.69" stroke="#6b4a30" stroke-width="0.35" opacity="0.6"/>
<line x1="713.04" y1="878.5" x2="713.04" y2="882.9" stroke="#222" stroke-width="1.1"/>
<text x="713.0" y="893.4" font-size="8.6" fill="#262626" text-anchor="middle">1</text>
<rect x="724.28" y="877.64" width="16.3" height="0.86" fill="#8b1f1f" stroke="#5a3c20" stroke-opacity="0.45" stroke-width="0.6"/>
<rect x="724.28" y="783.00" width="16.3" height="94.64" fill="#56983e" stroke="#5a3c20" stroke-opacity="0.45" stroke-width="0.6"/>
<rect x="724.28" y="771.20" width="16.3" height="11.80" fill="#dbb064" stroke="#5a3c20" stroke-opacity="0.45" stroke-width="0.6"/>
<line x1="724.28" y1="877.64" x2="740.58" y2="877.64" stroke="#6b4a30" stroke-width="0.35" opacity="0.6"/>
<line x1="724.28" y1="783.00" x2="740.58" y2="783.00" stroke="#6b4a30" stroke-width="0.35" opacity="0.6"/>
<line x1="732.43" y1="878.5" x2="732.43" y2="882.9" stroke="#222" stroke-width="1.1"/>
<text x="732.4" y="893.4" font-size="8.6" fill="#262626" text-anchor="middle">2</text>
<rect x="743.67" y="876.89" width="16.3" height="1.61" fill="#e8291e" stroke="#5a3c20" stroke-opacity="0.45" stroke-width="0.6"/>
<rect x="743.67" y="867.77" width="16.3" height="9.12" fill="#8b1f1f" stroke="#5a3c20" stroke-opacity="0.45" stroke-width="0.6"/>
<rect x="743.67" y="771.95" width="16.3" height="95.82" fill="#56983e" stroke="#5a3c20" stroke-opacity="0.45" stroke-width="0.6"/>
<rect x="743.67" y="771.20" width="16.3" height="0.75" fill="#8b1f1f" stroke="#5a3c20" stroke-opacity="0.45" stroke-width="0.6"/>
<line x1="743.67" y1="876.89" x2="759.97" y2="876.89" stroke="#6b4a30" stroke-width="0.35" opacity="0.6"/>
<line x1="743.67" y1="867.77" x2="759.97" y2="867.77" stroke="#6b4a30" stroke-width="0.35" opacity="0.6"/>
<line x1="743.67" y1="771.95" x2="759.97" y2="771.95" stroke="#6b4a30" stroke-width="0.35" opacity="0.6"/>
<line x1="751.82" y1="878.5" x2="751.82" y2="882.9" stroke="#222" stroke-width="1.1"/>
<text x="751.8" y="893.4" font-size="8.6" fill="#262626" text-anchor="middle">3</text>
<rect x="763.06" y="874.96" width="16.3" height="3.54" fill="#8b1f1f" stroke="#5a3c20" stroke-opacity="0.45" stroke-width="0.6"/>
<rect x="763.06" y="771.20" width="16.3" height="103.76" fill="#56983e" stroke="#5a3c20" stroke-opacity="0.45" stroke-width="0.6"/>
<line x1="763.06" y1="874.96" x2="779.36" y2="874.96" stroke="#6b4a30" stroke-width="0.35" opacity="0.6"/>
<line x1="771.21" y1="878.5" x2="771.21" y2="882.9" stroke="#222" stroke-width="1.1"/>
<text x="771.2" y="893.4" font-size="8.6" fill="#262626" text-anchor="middle">4</text>
<rect x="782.45" y="877.96" width="16.3" height="0.54" fill="#8b1f1f" stroke="#5a3c20" stroke-opacity="0.45" stroke-width="0.6"/>
<rect x="782.45" y="771.63" width="16.3" height="106.33" fill="#56983e" stroke="#5a3c20" stroke-opacity="0.45" stroke-width="0.6"/>
<rect x="782.45" y="771.20" width="16.3" height="0.43" fill="#c86040" stroke="#5a3c20" stroke-opacity="0.45" stroke-width="0.6"/>
<line x1="782.45" y1="877.96" x2="798.75" y2="877.96" stroke="#6b4a30" stroke-width="0.35" opacity="0.6"/>
<line x1="782.45" y1="771.63" x2="798.75" y2="771.63" stroke="#6b4a30" stroke-width="0.35" opacity="0.6"/>
<line x1="790.60" y1="878.5" x2="790.60" y2="882.9" stroke="#222" stroke-width="1.1"/>
<text x="790.6" y="893.4" font-size="8.6" fill="#262626" text-anchor="middle">5</text>
<rect x="801.84" y="877.43" width="16.3" height="1.07" fill="#8b1f1f" stroke="#5a3c20" stroke-opacity="0.45" stroke-width="0.6"/>
<rect x="801.84" y="771.52" width="16.3" height="105.91" fill="#56983e" stroke="#5a3c20" stroke-opacity="0.45" stroke-width="0.6"/>
<rect x="801.84" y="771.20" width="16.3" height="0.32" fill="#c86040" stroke="#5a3c20" stroke-opacity="0.45" stroke-width="0.6"/>
<line x1="801.84" y1="877.43" x2="818.14" y2="877.43" stroke="#6b4a30" stroke-width="0.35" opacity="0.6"/>
<line x1="801.84" y1="771.52" x2="818.14" y2="771.52" stroke="#6b4a30" stroke-width="0.35" opacity="0.6"/>
<line x1="809.99" y1="878.5" x2="809.99" y2="882.9" stroke="#222" stroke-width="1.1"/>
<text x="810.0" y="893.4" font-size="8.6" fill="#262626" text-anchor="middle">6</text>
<rect x="821.23" y="771.20" width="16.3" height="107.30" fill="#56983e" stroke="#5a3c20" stroke-opacity="0.45" stroke-width="0.6"/>
<line x1="829.38" y1="878.5" x2="829.38" y2="882.9" stroke="#222" stroke-width="1.1"/>
<text x="829.4" y="893.4" font-size="8.6" fill="#262626" text-anchor="middle">7</text>
<rect x="840.62" y="878.07" width="16.3" height="0.43" fill="#8b1f1f" stroke="#5a3c20" stroke-opacity="0.45" stroke-width="0.6"/>
<rect x="840.62" y="771.20" width="16.3" height="106.87" fill="#56983e" stroke="#5a3c20" stroke-opacity="0.45" stroke-width="0.6"/>
<line x1="840.62" y1="878.07" x2="856.92" y2="878.07" stroke="#6b4a30" stroke-width="0.35" opacity="0.6"/>
<line x1="848.77" y1="878.5" x2="848.77" y2="882.9" stroke="#222" stroke-width="1.1"/>
<text x="848.8" y="893.4" font-size="8.6" fill="#262626" text-anchor="middle">8</text>
<rect x="860.01" y="771.63" width="16.3" height="106.87" fill="#56983e" stroke="#5a3c20" stroke-opacity="0.45" stroke-width="0.6"/>
<rect x="860.01" y="771.20" width="16.3" height="0.43" fill="#c86040" stroke="#5a3c20" stroke-opacity="0.45" stroke-width="0.6"/>
<line x1="860.01" y1="771.63" x2="876.31" y2="771.63" stroke="#6b4a30" stroke-width="0.35" opacity="0.6"/>
<line x1="868.16" y1="878.5" x2="868.16" y2="882.9" stroke="#222" stroke-width="1.1"/>
<text x="868.2" y="893.4" font-size="8.6" fill="#262626" text-anchor="middle">9</text>
<rect x="879.40" y="878.18" width="16.3" height="0.32" fill="#8b1f1f" stroke="#5a3c20" stroke-opacity="0.45" stroke-width="0.6"/>
<rect x="879.40" y="771.20" width="16.3" height="106.98" fill="#56983e" stroke="#5a3c20" stroke-opacity="0.45" stroke-width="0.6"/>
<line x1="879.40" y1="878.18" x2="895.70" y2="878.18" stroke="#6b4a30" stroke-width="0.35" opacity="0.6"/>
<line x1="887.55" y1="878.5" x2="887.55" y2="882.9" stroke="#222" stroke-width="1.1"/>
<text x="887.5" y="893.4" font-size="8.6" fill="#262626" text-anchor="middle">10</text>
<rect x="898.79" y="771.84" width="16.3" height="106.66" fill="#56983e" stroke="#5a3c20" stroke-opacity="0.45" stroke-width="0.6"/>
<rect x="898.79" y="771.20" width="16.3" height="0.64" fill="#c86040" stroke="#5a3c20" stroke-opacity="0.45" stroke-width="0.6"/>
<line x1="898.79" y1="771.84" x2="915.09" y2="771.84" stroke="#6b4a30" stroke-width="0.35" opacity="0.6"/>
<line x1="906.94" y1="878.5" x2="906.94" y2="882.9" stroke="#222" stroke-width="1.1"/>
<text x="906.9" y="893.4" font-size="8.6" fill="#262626" text-anchor="middle">11</text>
<rect x="918.18" y="877.64" width="16.3" height="0.86" fill="#8b1f1f" stroke="#5a3c20" stroke-opacity="0.45" stroke-width="0.6"/>
<rect x="918.18" y="771.20" width="16.3" height="106.44" fill="#56983e" stroke="#5a3c20" stroke-opacity="0.45" stroke-width="0.6"/>
<line x1="918.18" y1="877.64" x2="934.48" y2="877.64" stroke="#6b4a30" stroke-width="0.35" opacity="0.6"/>
<line x1="926.33" y1="878.5" x2="926.33" y2="882.9" stroke="#222" stroke-width="1.1"/>
<text x="926.3" y="893.4" font-size="8.6" fill="#262626" text-anchor="middle">12</text>
<g stroke="#222" stroke-width="1.1" fill="none">
<polyline points="677.5,770.4 677.5,878.5 942,878.5"/>
<line x1="672.7" y1="878.5" x2="677.5" y2="878.5"/>
<line x1="672.7" y1="857.0" x2="677.5" y2="857.0"/>
<line x1="672.7" y1="835.6" x2="677.5" y2="835.6"/>
<line x1="672.7" y1="814.1" x2="677.5" y2="814.1"/>
<line x1="672.7" y1="792.7" x2="677.5" y2="792.7"/>
<line x1="672.7" y1="771.2" x2="677.5" y2="771.2"/>
</g>
<g font-size="8.6" fill="#262626" text-anchor="end">
<text x="671.5" y="881.6">0</text>
<text x="671.5" y="860.1">20</text>
<text x="671.5" y="838.7">40</text>
<text x="671.5" y="817.2">60</text>
<text x="671.5" y="795.8">80</text>
<text x="671.5" y="774.3">100</text>
</g>
<text x="809.5" y="907.3" font-size="8.85" fill="#262626" text-anchor="middle">Months post transplantation</text>
<text transform="translate(652.8,822.6) rotate(-90)" font-size="8.6" fill="#262626" text-anchor="middle">Percentage (%)</text>
</svg>
</body></html>
